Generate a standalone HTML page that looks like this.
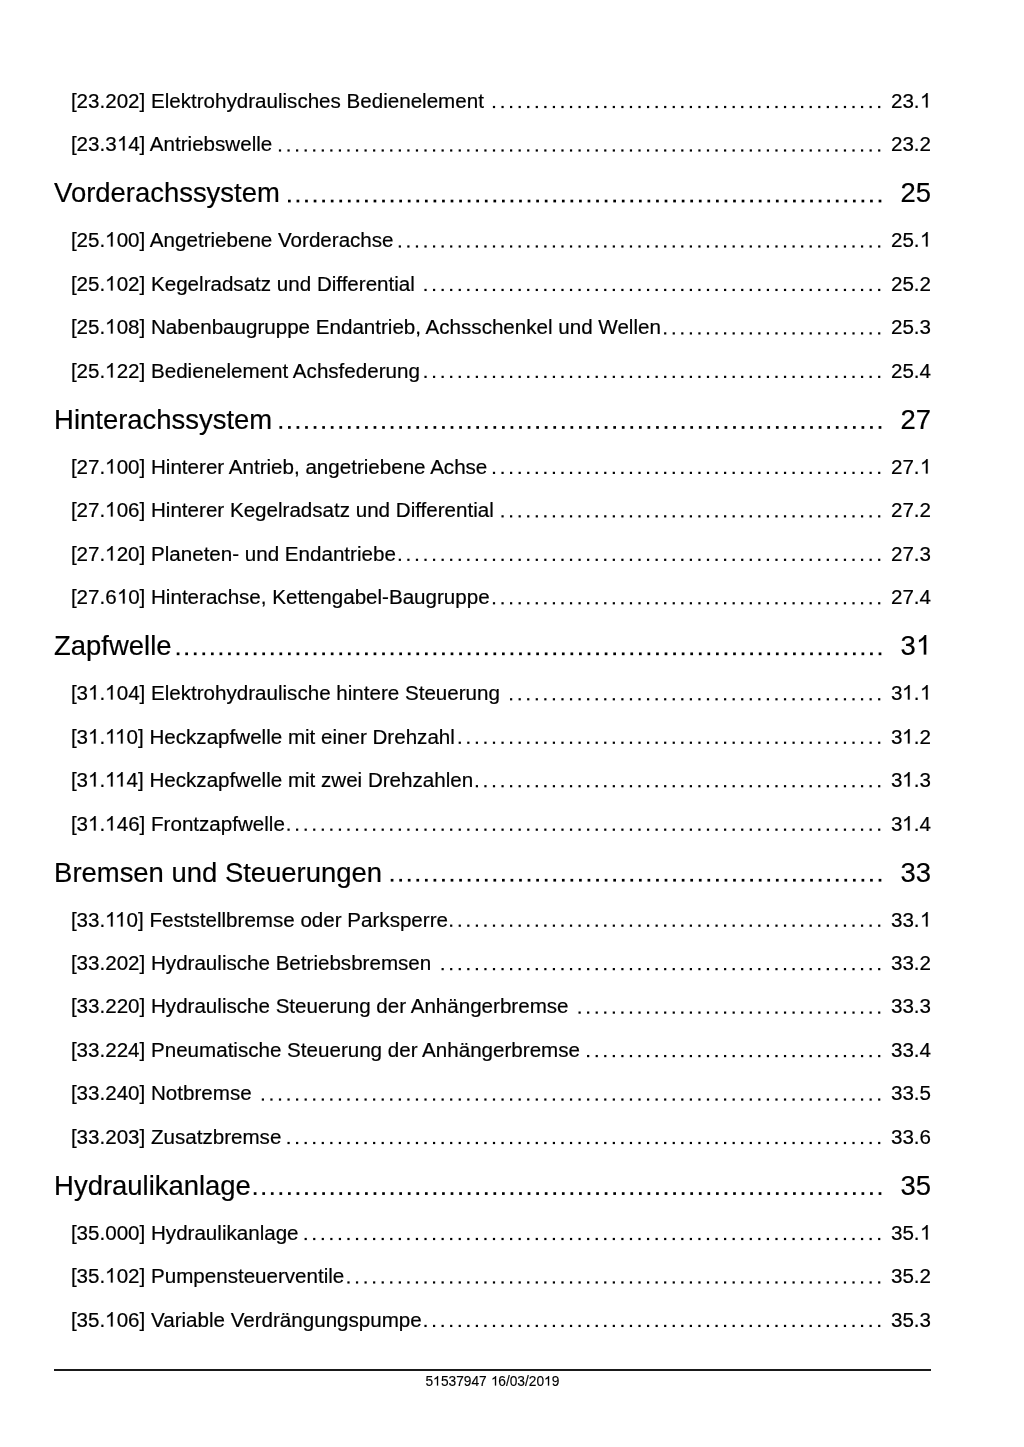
<!DOCTYPE html>
<html><head><meta charset="utf-8"><style>
html,body{margin:0;padding:0;background:#fff;}
body{width:1024px;height:1447px;position:relative;overflow:hidden;font-family:"Liberation Sans",sans-serif;color:#000;-webkit-text-stroke:0.2px #000;}
.r{position:absolute;white-space:nowrap;line-height:0;}
.e{font-size:20.58px;line-height:0;}
.t{font-size:27.44px;line-height:0;}
.n{text-align:right;}
.f{font-size:13.76px;line-height:0;-webkit-text-stroke:0.15px #000;}
.o{position:relative;color:transparent;-webkit-text-stroke-color:transparent;}
.o svg{position:absolute;left:0;width:0.55615em;height:0.71875em;bottom:var(--b);fill:#000;stroke:#000;stroke-width:var(--sw);overflow:visible;}
.e .o{--b:4px;--sw:20;}
.t .o{--b:6px;--sw:15;}
.f .o{--b:3px;--sw:22;}
.hr{position:absolute;left:54px;width:877px;top:1369px;height:2px;background:#1a1a1a;}
#pg{position:absolute;left:0;top:0;width:1024px;height:1447px;background:#fff;filter:blur(0.35px);}
</style></head><body><div id="pg">

<div class="r e" id="t0" style="left:70.9px;top:101px">[23.202] Elektrohydraulisches Bedienelement</div>
<div class="r e n" style="right:93.0px;top:101px">23.<span class="o">1<svg><use href="#one"/></svg></span></div>
<div class="r e" id="t1" style="left:70.9px;top:144px">[23.3<span class="o">1<svg><use href="#one"/></svg></span>4] Antriebswelle</div>
<div class="r e n" style="right:93.0px;top:144px">23.2</div>
<div class="r t" id="t2" style="left:54.1px;top:193px">Vorderachssystem</div>
<div class="r t n" style="right:93.0px;top:193px">25</div>
<div class="r e" id="t3" style="left:70.9px;top:240px">[25.<span class="o">1<svg><use href="#one"/></svg></span>00] Angetriebene Vorderachse</div>
<div class="r e n" style="right:93.0px;top:240px">25.<span class="o">1<svg><use href="#one"/></svg></span></div>
<div class="r e" id="t4" style="left:70.9px;top:284px">[25.<span class="o">1<svg><use href="#one"/></svg></span>02] Kegelradsatz und Differential</div>
<div class="r e n" style="right:93.0px;top:284px">25.2</div>
<div class="r e" id="t5" style="left:70.9px;top:327px">[25.<span class="o">1<svg><use href="#one"/></svg></span>08] Nabenbaugruppe Endantrieb, Achsschenkel und Wellen</div>
<div class="r e n" style="right:93.0px;top:327px">25.3</div>
<div class="r e" id="t6" style="left:70.9px;top:371px">[25.<span class="o">1<svg><use href="#one"/></svg></span>22] Bedienelement Achsfederung</div>
<div class="r e n" style="right:93.0px;top:371px">25.4</div>
<div class="r t" id="t7" style="left:54.1px;top:420px">Hinterachssystem</div>
<div class="r t n" style="right:93.0px;top:420px">27</div>
<div class="r e" id="t8" style="left:70.9px;top:467px">[27.<span class="o">1<svg><use href="#one"/></svg></span>00] Hinterer Antrieb, angetriebene Achse</div>
<div class="r e n" style="right:93.0px;top:467px">27.<span class="o">1<svg><use href="#one"/></svg></span></div>
<div class="r e" id="t9" style="left:70.9px;top:510px">[27.<span class="o">1<svg><use href="#one"/></svg></span>06] Hinterer Kegelradsatz und Differential</div>
<div class="r e n" style="right:93.0px;top:510px">27.2</div>
<div class="r e" id="t10" style="left:70.9px;top:554px">[27.<span class="o">1<svg><use href="#one"/></svg></span>20] Planeten- und Endantriebe</div>
<div class="r e n" style="right:93.0px;top:554px">27.3</div>
<div class="r e" id="t11" style="left:70.9px;top:597px">[27.6<span class="o">1<svg><use href="#one"/></svg></span>0] Hinterachse, Kettengabel-Baugruppe</div>
<div class="r e n" style="right:93.0px;top:597px">27.4</div>
<div class="r t" id="t12" style="left:54.1px;top:646px">Zapfwelle</div>
<div class="r t n" style="right:93.0px;top:646px">3<span class="o">1<svg><use href="#one"/></svg></span></div>
<div class="r e" id="t13" style="left:70.9px;top:693px">[3<span class="o">1<svg><use href="#one"/></svg></span>.<span class="o">1<svg><use href="#one"/></svg></span>04] Elektrohydraulische hintere Steuerung</div>
<div class="r e n" style="right:93.0px;top:693px">3<span class="o">1<svg><use href="#one"/></svg></span>.<span class="o">1<svg><use href="#one"/></svg></span></div>
<div class="r e" id="t14" style="left:70.9px;top:737px">[3<span class="o">1<svg><use href="#one"/></svg></span>.<span class="o">11<svg><use href="#one"/></svg><svg style="left:0.48193em"><use href="#one"/></svg></span>0] Heckzapfwelle mit einer Drehzahl</div>
<div class="r e n" style="right:93.0px;top:737px">3<span class="o">1<svg><use href="#one"/></svg></span>.2</div>
<div class="r e" id="t15" style="left:70.9px;top:780px">[3<span class="o">1<svg><use href="#one"/></svg></span>.<span class="o">11<svg><use href="#one"/></svg><svg style="left:0.48193em"><use href="#one"/></svg></span>4] Heckzapfwelle mit zwei Drehzahlen</div>
<div class="r e n" style="right:93.0px;top:780px">3<span class="o">1<svg><use href="#one"/></svg></span>.3</div>
<div class="r e" id="t16" style="left:70.9px;top:824px">[3<span class="o">1<svg><use href="#one"/></svg></span>.<span class="o">1<svg><use href="#one"/></svg></span>46] Frontzapfwelle</div>
<div class="r e n" style="right:93.0px;top:824px">3<span class="o">1<svg><use href="#one"/></svg></span>.4</div>
<div class="r t" id="t17" style="left:54.1px;top:873px">Bremsen und Steuerungen</div>
<div class="r t n" style="right:93.0px;top:873px">33</div>
<div class="r e" id="t18" style="left:70.9px;top:920px">[33.<span class="o">11<svg><use href="#one"/></svg><svg style="left:0.48193em"><use href="#one"/></svg></span>0] Feststellbremse oder Parksperre</div>
<div class="r e n" style="right:93.0px;top:920px">33.<span class="o">1<svg><use href="#one"/></svg></span></div>
<div class="r e" id="t19" style="left:70.9px;top:963px">[33.202] Hydraulische Betriebsbremsen</div>
<div class="r e n" style="right:93.0px;top:963px">33.2</div>
<div class="r e" id="t20" style="left:70.9px;top:1006px">[33.220] Hydraulische Steuerung der Anhängerbremse</div>
<div class="r e n" style="right:93.0px;top:1006px">33.3</div>
<div class="r e" id="t21" style="left:70.9px;top:1050px">[33.224] Pneumatische Steuerung der Anhängerbremse</div>
<div class="r e n" style="right:93.0px;top:1050px">33.4</div>
<div class="r e" id="t22" style="left:70.9px;top:1093px">[33.240] Notbremse</div>
<div class="r e n" style="right:93.0px;top:1093px">33.5</div>
<div class="r e" id="t23" style="left:70.9px;top:1137px">[33.203] Zusatzbremse</div>
<div class="r e n" style="right:93.0px;top:1137px">33.6</div>
<div class="r t" id="t24" style="left:54.1px;top:1186px">Hydraulikanlage</div>
<div class="r t n" style="right:93.0px;top:1186px">35</div>
<div class="r e" id="t25" style="left:70.9px;top:1233px">[35.000] Hydraulikanlage</div>
<div class="r e n" style="right:93.0px;top:1233px">35.<span class="o">1<svg><use href="#one"/></svg></span></div>
<div class="r e" id="t26" style="left:70.9px;top:1276px">[35.<span class="o">1<svg><use href="#one"/></svg></span>02] Pumpensteuerventile</div>
<div class="r e n" style="right:93.0px;top:1276px">35.2</div>
<div class="r e" id="t27" style="left:70.9px;top:1320px">[35.<span class="o">1<svg><use href="#one"/></svg></span>06] Variable Verdrängungspumpe</div>
<div class="r e n" style="right:93.0px;top:1320px">35.3</div>
<svg width="0" height="0" style="position:absolute"><defs><symbol id="one" viewBox="0 0 1139 1472"><path d="M763,1472L583,1472L583,325Q518,387 412.5,449Q307,511 223,542L223,368Q374,297 485.5,197.5Q597,98 647,0L763,0Z"/></symbol></defs></svg>
<div class="hr"></div>
<div class="r f" style="left:0;width:985px;text-align:center;top:1382px">5<span class="o">1<svg><use href="#one"/></svg></span>537947 <span class="o">1<svg><use href="#one"/></svg></span>6/03/20<span class="o">1<svg><use href="#one"/></svg></span>9</div>
<svg style="position:absolute;left:0;top:0" width="1024" height="1447" fill="#000"><rect x="878.10" y="105.91" width="2.2" height="2.2"/><rect x="869.54" y="105.91" width="2.2" height="2.2"/><rect x="860.98" y="105.91" width="2.2" height="2.2"/><rect x="852.42" y="105.91" width="2.2" height="2.2"/><rect x="843.86" y="105.91" width="2.2" height="2.2"/><rect x="835.30" y="105.91" width="2.2" height="2.2"/><rect x="826.74" y="105.91" width="2.2" height="2.2"/><rect x="818.18" y="105.91" width="2.2" height="2.2"/><rect x="809.62" y="105.91" width="2.2" height="2.2"/><rect x="801.06" y="105.91" width="2.2" height="2.2"/><rect x="792.50" y="105.91" width="2.2" height="2.2"/><rect x="783.94" y="105.91" width="2.2" height="2.2"/><rect x="775.38" y="105.91" width="2.2" height="2.2"/><rect x="766.82" y="105.91" width="2.2" height="2.2"/><rect x="758.26" y="105.91" width="2.2" height="2.2"/><rect x="749.70" y="105.91" width="2.2" height="2.2"/><rect x="741.14" y="105.91" width="2.2" height="2.2"/><rect x="732.58" y="105.91" width="2.2" height="2.2"/><rect x="724.02" y="105.91" width="2.2" height="2.2"/><rect x="715.46" y="105.91" width="2.2" height="2.2"/><rect x="706.90" y="105.91" width="2.2" height="2.2"/><rect x="698.34" y="105.91" width="2.2" height="2.2"/><rect x="689.78" y="105.91" width="2.2" height="2.2"/><rect x="681.22" y="105.91" width="2.2" height="2.2"/><rect x="672.66" y="105.91" width="2.2" height="2.2"/><rect x="664.10" y="105.91" width="2.2" height="2.2"/><rect x="655.54" y="105.91" width="2.2" height="2.2"/><rect x="646.98" y="105.91" width="2.2" height="2.2"/><rect x="638.42" y="105.91" width="2.2" height="2.2"/><rect x="629.86" y="105.91" width="2.2" height="2.2"/><rect x="621.30" y="105.91" width="2.2" height="2.2"/><rect x="612.74" y="105.91" width="2.2" height="2.2"/><rect x="604.18" y="105.91" width="2.2" height="2.2"/><rect x="595.62" y="105.91" width="2.2" height="2.2"/><rect x="587.06" y="105.91" width="2.2" height="2.2"/><rect x="578.50" y="105.91" width="2.2" height="2.2"/><rect x="569.94" y="105.91" width="2.2" height="2.2"/><rect x="561.38" y="105.91" width="2.2" height="2.2"/><rect x="552.82" y="105.91" width="2.2" height="2.2"/><rect x="544.26" y="105.91" width="2.2" height="2.2"/><rect x="535.70" y="105.91" width="2.2" height="2.2"/><rect x="527.14" y="105.91" width="2.2" height="2.2"/><rect x="518.58" y="105.91" width="2.2" height="2.2"/><rect x="510.02" y="105.91" width="2.2" height="2.2"/><rect x="501.46" y="105.91" width="2.2" height="2.2"/><rect x="492.90" y="105.91" width="2.2" height="2.2"/><rect x="878.10" y="149.38" width="2.2" height="2.2"/><rect x="869.54" y="149.38" width="2.2" height="2.2"/><rect x="860.98" y="149.38" width="2.2" height="2.2"/><rect x="852.42" y="149.38" width="2.2" height="2.2"/><rect x="843.86" y="149.38" width="2.2" height="2.2"/><rect x="835.30" y="149.38" width="2.2" height="2.2"/><rect x="826.74" y="149.38" width="2.2" height="2.2"/><rect x="818.18" y="149.38" width="2.2" height="2.2"/><rect x="809.62" y="149.38" width="2.2" height="2.2"/><rect x="801.06" y="149.38" width="2.2" height="2.2"/><rect x="792.50" y="149.38" width="2.2" height="2.2"/><rect x="783.94" y="149.38" width="2.2" height="2.2"/><rect x="775.38" y="149.38" width="2.2" height="2.2"/><rect x="766.82" y="149.38" width="2.2" height="2.2"/><rect x="758.26" y="149.38" width="2.2" height="2.2"/><rect x="749.70" y="149.38" width="2.2" height="2.2"/><rect x="741.14" y="149.38" width="2.2" height="2.2"/><rect x="732.58" y="149.38" width="2.2" height="2.2"/><rect x="724.02" y="149.38" width="2.2" height="2.2"/><rect x="715.46" y="149.38" width="2.2" height="2.2"/><rect x="706.90" y="149.38" width="2.2" height="2.2"/><rect x="698.34" y="149.38" width="2.2" height="2.2"/><rect x="689.78" y="149.38" width="2.2" height="2.2"/><rect x="681.22" y="149.38" width="2.2" height="2.2"/><rect x="672.66" y="149.38" width="2.2" height="2.2"/><rect x="664.10" y="149.38" width="2.2" height="2.2"/><rect x="655.54" y="149.38" width="2.2" height="2.2"/><rect x="646.98" y="149.38" width="2.2" height="2.2"/><rect x="638.42" y="149.38" width="2.2" height="2.2"/><rect x="629.86" y="149.38" width="2.2" height="2.2"/><rect x="621.30" y="149.38" width="2.2" height="2.2"/><rect x="612.74" y="149.38" width="2.2" height="2.2"/><rect x="604.18" y="149.38" width="2.2" height="2.2"/><rect x="595.62" y="149.38" width="2.2" height="2.2"/><rect x="587.06" y="149.38" width="2.2" height="2.2"/><rect x="578.50" y="149.38" width="2.2" height="2.2"/><rect x="569.94" y="149.38" width="2.2" height="2.2"/><rect x="561.38" y="149.38" width="2.2" height="2.2"/><rect x="552.82" y="149.38" width="2.2" height="2.2"/><rect x="544.26" y="149.38" width="2.2" height="2.2"/><rect x="535.70" y="149.38" width="2.2" height="2.2"/><rect x="527.14" y="149.38" width="2.2" height="2.2"/><rect x="518.58" y="149.38" width="2.2" height="2.2"/><rect x="510.02" y="149.38" width="2.2" height="2.2"/><rect x="501.46" y="149.38" width="2.2" height="2.2"/><rect x="492.90" y="149.38" width="2.2" height="2.2"/><rect x="484.34" y="149.38" width="2.2" height="2.2"/><rect x="475.78" y="149.38" width="2.2" height="2.2"/><rect x="467.22" y="149.38" width="2.2" height="2.2"/><rect x="458.66" y="149.38" width="2.2" height="2.2"/><rect x="450.10" y="149.38" width="2.2" height="2.2"/><rect x="441.54" y="149.38" width="2.2" height="2.2"/><rect x="432.98" y="149.38" width="2.2" height="2.2"/><rect x="424.42" y="149.38" width="2.2" height="2.2"/><rect x="415.86" y="149.38" width="2.2" height="2.2"/><rect x="407.30" y="149.38" width="2.2" height="2.2"/><rect x="398.74" y="149.38" width="2.2" height="2.2"/><rect x="390.18" y="149.38" width="2.2" height="2.2"/><rect x="381.62" y="149.38" width="2.2" height="2.2"/><rect x="373.06" y="149.38" width="2.2" height="2.2"/><rect x="364.50" y="149.38" width="2.2" height="2.2"/><rect x="355.94" y="149.38" width="2.2" height="2.2"/><rect x="347.38" y="149.38" width="2.2" height="2.2"/><rect x="338.82" y="149.38" width="2.2" height="2.2"/><rect x="330.26" y="149.38" width="2.2" height="2.2"/><rect x="321.70" y="149.38" width="2.2" height="2.2"/><rect x="313.14" y="149.38" width="2.2" height="2.2"/><rect x="304.58" y="149.38" width="2.2" height="2.2"/><rect x="296.02" y="149.38" width="2.2" height="2.2"/><rect x="287.46" y="149.38" width="2.2" height="2.2"/><rect x="278.90" y="149.38" width="2.2" height="2.2"/><rect x="878.65" y="199.69" width="2.7" height="2.7"/><rect x="870.09" y="199.69" width="2.7" height="2.7"/><rect x="861.53" y="199.69" width="2.7" height="2.7"/><rect x="852.97" y="199.69" width="2.7" height="2.7"/><rect x="844.41" y="199.69" width="2.7" height="2.7"/><rect x="835.85" y="199.69" width="2.7" height="2.7"/><rect x="827.29" y="199.69" width="2.7" height="2.7"/><rect x="818.73" y="199.69" width="2.7" height="2.7"/><rect x="810.17" y="199.69" width="2.7" height="2.7"/><rect x="801.61" y="199.69" width="2.7" height="2.7"/><rect x="793.05" y="199.69" width="2.7" height="2.7"/><rect x="784.49" y="199.69" width="2.7" height="2.7"/><rect x="775.93" y="199.69" width="2.7" height="2.7"/><rect x="767.37" y="199.69" width="2.7" height="2.7"/><rect x="758.81" y="199.69" width="2.7" height="2.7"/><rect x="750.25" y="199.69" width="2.7" height="2.7"/><rect x="741.69" y="199.69" width="2.7" height="2.7"/><rect x="733.13" y="199.69" width="2.7" height="2.7"/><rect x="724.57" y="199.69" width="2.7" height="2.7"/><rect x="716.01" y="199.69" width="2.7" height="2.7"/><rect x="707.45" y="199.69" width="2.7" height="2.7"/><rect x="698.89" y="199.69" width="2.7" height="2.7"/><rect x="690.33" y="199.69" width="2.7" height="2.7"/><rect x="681.77" y="199.69" width="2.7" height="2.7"/><rect x="673.21" y="199.69" width="2.7" height="2.7"/><rect x="664.65" y="199.69" width="2.7" height="2.7"/><rect x="656.09" y="199.69" width="2.7" height="2.7"/><rect x="647.53" y="199.69" width="2.7" height="2.7"/><rect x="638.97" y="199.69" width="2.7" height="2.7"/><rect x="630.41" y="199.69" width="2.7" height="2.7"/><rect x="621.85" y="199.69" width="2.7" height="2.7"/><rect x="613.29" y="199.69" width="2.7" height="2.7"/><rect x="604.73" y="199.69" width="2.7" height="2.7"/><rect x="596.17" y="199.69" width="2.7" height="2.7"/><rect x="587.61" y="199.69" width="2.7" height="2.7"/><rect x="579.05" y="199.69" width="2.7" height="2.7"/><rect x="570.49" y="199.69" width="2.7" height="2.7"/><rect x="561.93" y="199.69" width="2.7" height="2.7"/><rect x="553.37" y="199.69" width="2.7" height="2.7"/><rect x="544.81" y="199.69" width="2.7" height="2.7"/><rect x="536.25" y="199.69" width="2.7" height="2.7"/><rect x="527.69" y="199.69" width="2.7" height="2.7"/><rect x="519.13" y="199.69" width="2.7" height="2.7"/><rect x="510.57" y="199.69" width="2.7" height="2.7"/><rect x="502.01" y="199.69" width="2.7" height="2.7"/><rect x="493.45" y="199.69" width="2.7" height="2.7"/><rect x="484.89" y="199.69" width="2.7" height="2.7"/><rect x="476.33" y="199.69" width="2.7" height="2.7"/><rect x="467.77" y="199.69" width="2.7" height="2.7"/><rect x="459.21" y="199.69" width="2.7" height="2.7"/><rect x="450.65" y="199.69" width="2.7" height="2.7"/><rect x="442.09" y="199.69" width="2.7" height="2.7"/><rect x="433.53" y="199.69" width="2.7" height="2.7"/><rect x="424.97" y="199.69" width="2.7" height="2.7"/><rect x="416.41" y="199.69" width="2.7" height="2.7"/><rect x="407.85" y="199.69" width="2.7" height="2.7"/><rect x="399.29" y="199.69" width="2.7" height="2.7"/><rect x="390.73" y="199.69" width="2.7" height="2.7"/><rect x="382.17" y="199.69" width="2.7" height="2.7"/><rect x="373.61" y="199.69" width="2.7" height="2.7"/><rect x="365.05" y="199.69" width="2.7" height="2.7"/><rect x="356.49" y="199.69" width="2.7" height="2.7"/><rect x="347.93" y="199.69" width="2.7" height="2.7"/><rect x="339.37" y="199.69" width="2.7" height="2.7"/><rect x="330.81" y="199.69" width="2.7" height="2.7"/><rect x="322.25" y="199.69" width="2.7" height="2.7"/><rect x="313.69" y="199.69" width="2.7" height="2.7"/><rect x="305.13" y="199.69" width="2.7" height="2.7"/><rect x="296.57" y="199.69" width="2.7" height="2.7"/><rect x="288.01" y="199.69" width="2.7" height="2.7"/><rect x="878.10" y="245.38" width="2.2" height="2.2"/><rect x="869.54" y="245.38" width="2.2" height="2.2"/><rect x="860.98" y="245.38" width="2.2" height="2.2"/><rect x="852.42" y="245.38" width="2.2" height="2.2"/><rect x="843.86" y="245.38" width="2.2" height="2.2"/><rect x="835.30" y="245.38" width="2.2" height="2.2"/><rect x="826.74" y="245.38" width="2.2" height="2.2"/><rect x="818.18" y="245.38" width="2.2" height="2.2"/><rect x="809.62" y="245.38" width="2.2" height="2.2"/><rect x="801.06" y="245.38" width="2.2" height="2.2"/><rect x="792.50" y="245.38" width="2.2" height="2.2"/><rect x="783.94" y="245.38" width="2.2" height="2.2"/><rect x="775.38" y="245.38" width="2.2" height="2.2"/><rect x="766.82" y="245.38" width="2.2" height="2.2"/><rect x="758.26" y="245.38" width="2.2" height="2.2"/><rect x="749.70" y="245.38" width="2.2" height="2.2"/><rect x="741.14" y="245.38" width="2.2" height="2.2"/><rect x="732.58" y="245.38" width="2.2" height="2.2"/><rect x="724.02" y="245.38" width="2.2" height="2.2"/><rect x="715.46" y="245.38" width="2.2" height="2.2"/><rect x="706.90" y="245.38" width="2.2" height="2.2"/><rect x="698.34" y="245.38" width="2.2" height="2.2"/><rect x="689.78" y="245.38" width="2.2" height="2.2"/><rect x="681.22" y="245.38" width="2.2" height="2.2"/><rect x="672.66" y="245.38" width="2.2" height="2.2"/><rect x="664.10" y="245.38" width="2.2" height="2.2"/><rect x="655.54" y="245.38" width="2.2" height="2.2"/><rect x="646.98" y="245.38" width="2.2" height="2.2"/><rect x="638.42" y="245.38" width="2.2" height="2.2"/><rect x="629.86" y="245.38" width="2.2" height="2.2"/><rect x="621.30" y="245.38" width="2.2" height="2.2"/><rect x="612.74" y="245.38" width="2.2" height="2.2"/><rect x="604.18" y="245.38" width="2.2" height="2.2"/><rect x="595.62" y="245.38" width="2.2" height="2.2"/><rect x="587.06" y="245.38" width="2.2" height="2.2"/><rect x="578.50" y="245.38" width="2.2" height="2.2"/><rect x="569.94" y="245.38" width="2.2" height="2.2"/><rect x="561.38" y="245.38" width="2.2" height="2.2"/><rect x="552.82" y="245.38" width="2.2" height="2.2"/><rect x="544.26" y="245.38" width="2.2" height="2.2"/><rect x="535.70" y="245.38" width="2.2" height="2.2"/><rect x="527.14" y="245.38" width="2.2" height="2.2"/><rect x="518.58" y="245.38" width="2.2" height="2.2"/><rect x="510.02" y="245.38" width="2.2" height="2.2"/><rect x="501.46" y="245.38" width="2.2" height="2.2"/><rect x="492.90" y="245.38" width="2.2" height="2.2"/><rect x="484.34" y="245.38" width="2.2" height="2.2"/><rect x="475.78" y="245.38" width="2.2" height="2.2"/><rect x="467.22" y="245.38" width="2.2" height="2.2"/><rect x="458.66" y="245.38" width="2.2" height="2.2"/><rect x="450.10" y="245.38" width="2.2" height="2.2"/><rect x="441.54" y="245.38" width="2.2" height="2.2"/><rect x="432.98" y="245.38" width="2.2" height="2.2"/><rect x="424.42" y="245.38" width="2.2" height="2.2"/><rect x="415.86" y="245.38" width="2.2" height="2.2"/><rect x="407.30" y="245.38" width="2.2" height="2.2"/><rect x="398.74" y="245.38" width="2.2" height="2.2"/><rect x="878.10" y="288.84" width="2.2" height="2.2"/><rect x="869.54" y="288.84" width="2.2" height="2.2"/><rect x="860.98" y="288.84" width="2.2" height="2.2"/><rect x="852.42" y="288.84" width="2.2" height="2.2"/><rect x="843.86" y="288.84" width="2.2" height="2.2"/><rect x="835.30" y="288.84" width="2.2" height="2.2"/><rect x="826.74" y="288.84" width="2.2" height="2.2"/><rect x="818.18" y="288.84" width="2.2" height="2.2"/><rect x="809.62" y="288.84" width="2.2" height="2.2"/><rect x="801.06" y="288.84" width="2.2" height="2.2"/><rect x="792.50" y="288.84" width="2.2" height="2.2"/><rect x="783.94" y="288.84" width="2.2" height="2.2"/><rect x="775.38" y="288.84" width="2.2" height="2.2"/><rect x="766.82" y="288.84" width="2.2" height="2.2"/><rect x="758.26" y="288.84" width="2.2" height="2.2"/><rect x="749.70" y="288.84" width="2.2" height="2.2"/><rect x="741.14" y="288.84" width="2.2" height="2.2"/><rect x="732.58" y="288.84" width="2.2" height="2.2"/><rect x="724.02" y="288.84" width="2.2" height="2.2"/><rect x="715.46" y="288.84" width="2.2" height="2.2"/><rect x="706.90" y="288.84" width="2.2" height="2.2"/><rect x="698.34" y="288.84" width="2.2" height="2.2"/><rect x="689.78" y="288.84" width="2.2" height="2.2"/><rect x="681.22" y="288.84" width="2.2" height="2.2"/><rect x="672.66" y="288.84" width="2.2" height="2.2"/><rect x="664.10" y="288.84" width="2.2" height="2.2"/><rect x="655.54" y="288.84" width="2.2" height="2.2"/><rect x="646.98" y="288.84" width="2.2" height="2.2"/><rect x="638.42" y="288.84" width="2.2" height="2.2"/><rect x="629.86" y="288.84" width="2.2" height="2.2"/><rect x="621.30" y="288.84" width="2.2" height="2.2"/><rect x="612.74" y="288.84" width="2.2" height="2.2"/><rect x="604.18" y="288.84" width="2.2" height="2.2"/><rect x="595.62" y="288.84" width="2.2" height="2.2"/><rect x="587.06" y="288.84" width="2.2" height="2.2"/><rect x="578.50" y="288.84" width="2.2" height="2.2"/><rect x="569.94" y="288.84" width="2.2" height="2.2"/><rect x="561.38" y="288.84" width="2.2" height="2.2"/><rect x="552.82" y="288.84" width="2.2" height="2.2"/><rect x="544.26" y="288.84" width="2.2" height="2.2"/><rect x="535.70" y="288.84" width="2.2" height="2.2"/><rect x="527.14" y="288.84" width="2.2" height="2.2"/><rect x="518.58" y="288.84" width="2.2" height="2.2"/><rect x="510.02" y="288.84" width="2.2" height="2.2"/><rect x="501.46" y="288.84" width="2.2" height="2.2"/><rect x="492.90" y="288.84" width="2.2" height="2.2"/><rect x="484.34" y="288.84" width="2.2" height="2.2"/><rect x="475.78" y="288.84" width="2.2" height="2.2"/><rect x="467.22" y="288.84" width="2.2" height="2.2"/><rect x="458.66" y="288.84" width="2.2" height="2.2"/><rect x="450.10" y="288.84" width="2.2" height="2.2"/><rect x="441.54" y="288.84" width="2.2" height="2.2"/><rect x="432.98" y="288.84" width="2.2" height="2.2"/><rect x="424.42" y="288.84" width="2.2" height="2.2"/><rect x="878.10" y="332.31" width="2.2" height="2.2"/><rect x="869.54" y="332.31" width="2.2" height="2.2"/><rect x="860.98" y="332.31" width="2.2" height="2.2"/><rect x="852.42" y="332.31" width="2.2" height="2.2"/><rect x="843.86" y="332.31" width="2.2" height="2.2"/><rect x="835.30" y="332.31" width="2.2" height="2.2"/><rect x="826.74" y="332.31" width="2.2" height="2.2"/><rect x="818.18" y="332.31" width="2.2" height="2.2"/><rect x="809.62" y="332.31" width="2.2" height="2.2"/><rect x="801.06" y="332.31" width="2.2" height="2.2"/><rect x="792.50" y="332.31" width="2.2" height="2.2"/><rect x="783.94" y="332.31" width="2.2" height="2.2"/><rect x="775.38" y="332.31" width="2.2" height="2.2"/><rect x="766.82" y="332.31" width="2.2" height="2.2"/><rect x="758.26" y="332.31" width="2.2" height="2.2"/><rect x="749.70" y="332.31" width="2.2" height="2.2"/><rect x="741.14" y="332.31" width="2.2" height="2.2"/><rect x="732.58" y="332.31" width="2.2" height="2.2"/><rect x="724.02" y="332.31" width="2.2" height="2.2"/><rect x="715.46" y="332.31" width="2.2" height="2.2"/><rect x="706.90" y="332.31" width="2.2" height="2.2"/><rect x="698.34" y="332.31" width="2.2" height="2.2"/><rect x="689.78" y="332.31" width="2.2" height="2.2"/><rect x="681.22" y="332.31" width="2.2" height="2.2"/><rect x="672.66" y="332.31" width="2.2" height="2.2"/><rect x="664.10" y="332.31" width="2.2" height="2.2"/><rect x="878.10" y="375.77" width="2.2" height="2.2"/><rect x="869.54" y="375.77" width="2.2" height="2.2"/><rect x="860.98" y="375.77" width="2.2" height="2.2"/><rect x="852.42" y="375.77" width="2.2" height="2.2"/><rect x="843.86" y="375.77" width="2.2" height="2.2"/><rect x="835.30" y="375.77" width="2.2" height="2.2"/><rect x="826.74" y="375.77" width="2.2" height="2.2"/><rect x="818.18" y="375.77" width="2.2" height="2.2"/><rect x="809.62" y="375.77" width="2.2" height="2.2"/><rect x="801.06" y="375.77" width="2.2" height="2.2"/><rect x="792.50" y="375.77" width="2.2" height="2.2"/><rect x="783.94" y="375.77" width="2.2" height="2.2"/><rect x="775.38" y="375.77" width="2.2" height="2.2"/><rect x="766.82" y="375.77" width="2.2" height="2.2"/><rect x="758.26" y="375.77" width="2.2" height="2.2"/><rect x="749.70" y="375.77" width="2.2" height="2.2"/><rect x="741.14" y="375.77" width="2.2" height="2.2"/><rect x="732.58" y="375.77" width="2.2" height="2.2"/><rect x="724.02" y="375.77" width="2.2" height="2.2"/><rect x="715.46" y="375.77" width="2.2" height="2.2"/><rect x="706.90" y="375.77" width="2.2" height="2.2"/><rect x="698.34" y="375.77" width="2.2" height="2.2"/><rect x="689.78" y="375.77" width="2.2" height="2.2"/><rect x="681.22" y="375.77" width="2.2" height="2.2"/><rect x="672.66" y="375.77" width="2.2" height="2.2"/><rect x="664.10" y="375.77" width="2.2" height="2.2"/><rect x="655.54" y="375.77" width="2.2" height="2.2"/><rect x="646.98" y="375.77" width="2.2" height="2.2"/><rect x="638.42" y="375.77" width="2.2" height="2.2"/><rect x="629.86" y="375.77" width="2.2" height="2.2"/><rect x="621.30" y="375.77" width="2.2" height="2.2"/><rect x="612.74" y="375.77" width="2.2" height="2.2"/><rect x="604.18" y="375.77" width="2.2" height="2.2"/><rect x="595.62" y="375.77" width="2.2" height="2.2"/><rect x="587.06" y="375.77" width="2.2" height="2.2"/><rect x="578.50" y="375.77" width="2.2" height="2.2"/><rect x="569.94" y="375.77" width="2.2" height="2.2"/><rect x="561.38" y="375.77" width="2.2" height="2.2"/><rect x="552.82" y="375.77" width="2.2" height="2.2"/><rect x="544.26" y="375.77" width="2.2" height="2.2"/><rect x="535.70" y="375.77" width="2.2" height="2.2"/><rect x="527.14" y="375.77" width="2.2" height="2.2"/><rect x="518.58" y="375.77" width="2.2" height="2.2"/><rect x="510.02" y="375.77" width="2.2" height="2.2"/><rect x="501.46" y="375.77" width="2.2" height="2.2"/><rect x="492.90" y="375.77" width="2.2" height="2.2"/><rect x="484.34" y="375.77" width="2.2" height="2.2"/><rect x="475.78" y="375.77" width="2.2" height="2.2"/><rect x="467.22" y="375.77" width="2.2" height="2.2"/><rect x="458.66" y="375.77" width="2.2" height="2.2"/><rect x="450.10" y="375.77" width="2.2" height="2.2"/><rect x="441.54" y="375.77" width="2.2" height="2.2"/><rect x="432.98" y="375.77" width="2.2" height="2.2"/><rect x="424.42" y="375.77" width="2.2" height="2.2"/><rect x="878.65" y="426.09" width="2.7" height="2.7"/><rect x="870.09" y="426.09" width="2.7" height="2.7"/><rect x="861.53" y="426.09" width="2.7" height="2.7"/><rect x="852.97" y="426.09" width="2.7" height="2.7"/><rect x="844.41" y="426.09" width="2.7" height="2.7"/><rect x="835.85" y="426.09" width="2.7" height="2.7"/><rect x="827.29" y="426.09" width="2.7" height="2.7"/><rect x="818.73" y="426.09" width="2.7" height="2.7"/><rect x="810.17" y="426.09" width="2.7" height="2.7"/><rect x="801.61" y="426.09" width="2.7" height="2.7"/><rect x="793.05" y="426.09" width="2.7" height="2.7"/><rect x="784.49" y="426.09" width="2.7" height="2.7"/><rect x="775.93" y="426.09" width="2.7" height="2.7"/><rect x="767.37" y="426.09" width="2.7" height="2.7"/><rect x="758.81" y="426.09" width="2.7" height="2.7"/><rect x="750.25" y="426.09" width="2.7" height="2.7"/><rect x="741.69" y="426.09" width="2.7" height="2.7"/><rect x="733.13" y="426.09" width="2.7" height="2.7"/><rect x="724.57" y="426.09" width="2.7" height="2.7"/><rect x="716.01" y="426.09" width="2.7" height="2.7"/><rect x="707.45" y="426.09" width="2.7" height="2.7"/><rect x="698.89" y="426.09" width="2.7" height="2.7"/><rect x="690.33" y="426.09" width="2.7" height="2.7"/><rect x="681.77" y="426.09" width="2.7" height="2.7"/><rect x="673.21" y="426.09" width="2.7" height="2.7"/><rect x="664.65" y="426.09" width="2.7" height="2.7"/><rect x="656.09" y="426.09" width="2.7" height="2.7"/><rect x="647.53" y="426.09" width="2.7" height="2.7"/><rect x="638.97" y="426.09" width="2.7" height="2.7"/><rect x="630.41" y="426.09" width="2.7" height="2.7"/><rect x="621.85" y="426.09" width="2.7" height="2.7"/><rect x="613.29" y="426.09" width="2.7" height="2.7"/><rect x="604.73" y="426.09" width="2.7" height="2.7"/><rect x="596.17" y="426.09" width="2.7" height="2.7"/><rect x="587.61" y="426.09" width="2.7" height="2.7"/><rect x="579.05" y="426.09" width="2.7" height="2.7"/><rect x="570.49" y="426.09" width="2.7" height="2.7"/><rect x="561.93" y="426.09" width="2.7" height="2.7"/><rect x="553.37" y="426.09" width="2.7" height="2.7"/><rect x="544.81" y="426.09" width="2.7" height="2.7"/><rect x="536.25" y="426.09" width="2.7" height="2.7"/><rect x="527.69" y="426.09" width="2.7" height="2.7"/><rect x="519.13" y="426.09" width="2.7" height="2.7"/><rect x="510.57" y="426.09" width="2.7" height="2.7"/><rect x="502.01" y="426.09" width="2.7" height="2.7"/><rect x="493.45" y="426.09" width="2.7" height="2.7"/><rect x="484.89" y="426.09" width="2.7" height="2.7"/><rect x="476.33" y="426.09" width="2.7" height="2.7"/><rect x="467.77" y="426.09" width="2.7" height="2.7"/><rect x="459.21" y="426.09" width="2.7" height="2.7"/><rect x="450.65" y="426.09" width="2.7" height="2.7"/><rect x="442.09" y="426.09" width="2.7" height="2.7"/><rect x="433.53" y="426.09" width="2.7" height="2.7"/><rect x="424.97" y="426.09" width="2.7" height="2.7"/><rect x="416.41" y="426.09" width="2.7" height="2.7"/><rect x="407.85" y="426.09" width="2.7" height="2.7"/><rect x="399.29" y="426.09" width="2.7" height="2.7"/><rect x="390.73" y="426.09" width="2.7" height="2.7"/><rect x="382.17" y="426.09" width="2.7" height="2.7"/><rect x="373.61" y="426.09" width="2.7" height="2.7"/><rect x="365.05" y="426.09" width="2.7" height="2.7"/><rect x="356.49" y="426.09" width="2.7" height="2.7"/><rect x="347.93" y="426.09" width="2.7" height="2.7"/><rect x="339.37" y="426.09" width="2.7" height="2.7"/><rect x="330.81" y="426.09" width="2.7" height="2.7"/><rect x="322.25" y="426.09" width="2.7" height="2.7"/><rect x="313.69" y="426.09" width="2.7" height="2.7"/><rect x="305.13" y="426.09" width="2.7" height="2.7"/><rect x="296.57" y="426.09" width="2.7" height="2.7"/><rect x="288.01" y="426.09" width="2.7" height="2.7"/><rect x="279.45" y="426.09" width="2.7" height="2.7"/><rect x="878.10" y="471.77" width="2.2" height="2.2"/><rect x="869.54" y="471.77" width="2.2" height="2.2"/><rect x="860.98" y="471.77" width="2.2" height="2.2"/><rect x="852.42" y="471.77" width="2.2" height="2.2"/><rect x="843.86" y="471.77" width="2.2" height="2.2"/><rect x="835.30" y="471.77" width="2.2" height="2.2"/><rect x="826.74" y="471.77" width="2.2" height="2.2"/><rect x="818.18" y="471.77" width="2.2" height="2.2"/><rect x="809.62" y="471.77" width="2.2" height="2.2"/><rect x="801.06" y="471.77" width="2.2" height="2.2"/><rect x="792.50" y="471.77" width="2.2" height="2.2"/><rect x="783.94" y="471.77" width="2.2" height="2.2"/><rect x="775.38" y="471.77" width="2.2" height="2.2"/><rect x="766.82" y="471.77" width="2.2" height="2.2"/><rect x="758.26" y="471.77" width="2.2" height="2.2"/><rect x="749.70" y="471.77" width="2.2" height="2.2"/><rect x="741.14" y="471.77" width="2.2" height="2.2"/><rect x="732.58" y="471.77" width="2.2" height="2.2"/><rect x="724.02" y="471.77" width="2.2" height="2.2"/><rect x="715.46" y="471.77" width="2.2" height="2.2"/><rect x="706.90" y="471.77" width="2.2" height="2.2"/><rect x="698.34" y="471.77" width="2.2" height="2.2"/><rect x="689.78" y="471.77" width="2.2" height="2.2"/><rect x="681.22" y="471.77" width="2.2" height="2.2"/><rect x="672.66" y="471.77" width="2.2" height="2.2"/><rect x="664.10" y="471.77" width="2.2" height="2.2"/><rect x="655.54" y="471.77" width="2.2" height="2.2"/><rect x="646.98" y="471.77" width="2.2" height="2.2"/><rect x="638.42" y="471.77" width="2.2" height="2.2"/><rect x="629.86" y="471.77" width="2.2" height="2.2"/><rect x="621.30" y="471.77" width="2.2" height="2.2"/><rect x="612.74" y="471.77" width="2.2" height="2.2"/><rect x="604.18" y="471.77" width="2.2" height="2.2"/><rect x="595.62" y="471.77" width="2.2" height="2.2"/><rect x="587.06" y="471.77" width="2.2" height="2.2"/><rect x="578.50" y="471.77" width="2.2" height="2.2"/><rect x="569.94" y="471.77" width="2.2" height="2.2"/><rect x="561.38" y="471.77" width="2.2" height="2.2"/><rect x="552.82" y="471.77" width="2.2" height="2.2"/><rect x="544.26" y="471.77" width="2.2" height="2.2"/><rect x="535.70" y="471.77" width="2.2" height="2.2"/><rect x="527.14" y="471.77" width="2.2" height="2.2"/><rect x="518.58" y="471.77" width="2.2" height="2.2"/><rect x="510.02" y="471.77" width="2.2" height="2.2"/><rect x="501.46" y="471.77" width="2.2" height="2.2"/><rect x="492.90" y="471.77" width="2.2" height="2.2"/><rect x="878.10" y="515.24" width="2.2" height="2.2"/><rect x="869.54" y="515.24" width="2.2" height="2.2"/><rect x="860.98" y="515.24" width="2.2" height="2.2"/><rect x="852.42" y="515.24" width="2.2" height="2.2"/><rect x="843.86" y="515.24" width="2.2" height="2.2"/><rect x="835.30" y="515.24" width="2.2" height="2.2"/><rect x="826.74" y="515.24" width="2.2" height="2.2"/><rect x="818.18" y="515.24" width="2.2" height="2.2"/><rect x="809.62" y="515.24" width="2.2" height="2.2"/><rect x="801.06" y="515.24" width="2.2" height="2.2"/><rect x="792.50" y="515.24" width="2.2" height="2.2"/><rect x="783.94" y="515.24" width="2.2" height="2.2"/><rect x="775.38" y="515.24" width="2.2" height="2.2"/><rect x="766.82" y="515.24" width="2.2" height="2.2"/><rect x="758.26" y="515.24" width="2.2" height="2.2"/><rect x="749.70" y="515.24" width="2.2" height="2.2"/><rect x="741.14" y="515.24" width="2.2" height="2.2"/><rect x="732.58" y="515.24" width="2.2" height="2.2"/><rect x="724.02" y="515.24" width="2.2" height="2.2"/><rect x="715.46" y="515.24" width="2.2" height="2.2"/><rect x="706.90" y="515.24" width="2.2" height="2.2"/><rect x="698.34" y="515.24" width="2.2" height="2.2"/><rect x="689.78" y="515.24" width="2.2" height="2.2"/><rect x="681.22" y="515.24" width="2.2" height="2.2"/><rect x="672.66" y="515.24" width="2.2" height="2.2"/><rect x="664.10" y="515.24" width="2.2" height="2.2"/><rect x="655.54" y="515.24" width="2.2" height="2.2"/><rect x="646.98" y="515.24" width="2.2" height="2.2"/><rect x="638.42" y="515.24" width="2.2" height="2.2"/><rect x="629.86" y="515.24" width="2.2" height="2.2"/><rect x="621.30" y="515.24" width="2.2" height="2.2"/><rect x="612.74" y="515.24" width="2.2" height="2.2"/><rect x="604.18" y="515.24" width="2.2" height="2.2"/><rect x="595.62" y="515.24" width="2.2" height="2.2"/><rect x="587.06" y="515.24" width="2.2" height="2.2"/><rect x="578.50" y="515.24" width="2.2" height="2.2"/><rect x="569.94" y="515.24" width="2.2" height="2.2"/><rect x="561.38" y="515.24" width="2.2" height="2.2"/><rect x="552.82" y="515.24" width="2.2" height="2.2"/><rect x="544.26" y="515.24" width="2.2" height="2.2"/><rect x="535.70" y="515.24" width="2.2" height="2.2"/><rect x="527.14" y="515.24" width="2.2" height="2.2"/><rect x="518.58" y="515.24" width="2.2" height="2.2"/><rect x="510.02" y="515.24" width="2.2" height="2.2"/><rect x="501.46" y="515.24" width="2.2" height="2.2"/><rect x="878.10" y="558.71" width="2.2" height="2.2"/><rect x="869.54" y="558.71" width="2.2" height="2.2"/><rect x="860.98" y="558.71" width="2.2" height="2.2"/><rect x="852.42" y="558.71" width="2.2" height="2.2"/><rect x="843.86" y="558.71" width="2.2" height="2.2"/><rect x="835.30" y="558.71" width="2.2" height="2.2"/><rect x="826.74" y="558.71" width="2.2" height="2.2"/><rect x="818.18" y="558.71" width="2.2" height="2.2"/><rect x="809.62" y="558.71" width="2.2" height="2.2"/><rect x="801.06" y="558.71" width="2.2" height="2.2"/><rect x="792.50" y="558.71" width="2.2" height="2.2"/><rect x="783.94" y="558.71" width="2.2" height="2.2"/><rect x="775.38" y="558.71" width="2.2" height="2.2"/><rect x="766.82" y="558.71" width="2.2" height="2.2"/><rect x="758.26" y="558.71" width="2.2" height="2.2"/><rect x="749.70" y="558.71" width="2.2" height="2.2"/><rect x="741.14" y="558.71" width="2.2" height="2.2"/><rect x="732.58" y="558.71" width="2.2" height="2.2"/><rect x="724.02" y="558.71" width="2.2" height="2.2"/><rect x="715.46" y="558.71" width="2.2" height="2.2"/><rect x="706.90" y="558.71" width="2.2" height="2.2"/><rect x="698.34" y="558.71" width="2.2" height="2.2"/><rect x="689.78" y="558.71" width="2.2" height="2.2"/><rect x="681.22" y="558.71" width="2.2" height="2.2"/><rect x="672.66" y="558.71" width="2.2" height="2.2"/><rect x="664.10" y="558.71" width="2.2" height="2.2"/><rect x="655.54" y="558.71" width="2.2" height="2.2"/><rect x="646.98" y="558.71" width="2.2" height="2.2"/><rect x="638.42" y="558.71" width="2.2" height="2.2"/><rect x="629.86" y="558.71" width="2.2" height="2.2"/><rect x="621.30" y="558.71" width="2.2" height="2.2"/><rect x="612.74" y="558.71" width="2.2" height="2.2"/><rect x="604.18" y="558.71" width="2.2" height="2.2"/><rect x="595.62" y="558.71" width="2.2" height="2.2"/><rect x="587.06" y="558.71" width="2.2" height="2.2"/><rect x="578.50" y="558.71" width="2.2" height="2.2"/><rect x="569.94" y="558.71" width="2.2" height="2.2"/><rect x="561.38" y="558.71" width="2.2" height="2.2"/><rect x="552.82" y="558.71" width="2.2" height="2.2"/><rect x="544.26" y="558.71" width="2.2" height="2.2"/><rect x="535.70" y="558.71" width="2.2" height="2.2"/><rect x="527.14" y="558.71" width="2.2" height="2.2"/><rect x="518.58" y="558.71" width="2.2" height="2.2"/><rect x="510.02" y="558.71" width="2.2" height="2.2"/><rect x="501.46" y="558.71" width="2.2" height="2.2"/><rect x="492.90" y="558.71" width="2.2" height="2.2"/><rect x="484.34" y="558.71" width="2.2" height="2.2"/><rect x="475.78" y="558.71" width="2.2" height="2.2"/><rect x="467.22" y="558.71" width="2.2" height="2.2"/><rect x="458.66" y="558.71" width="2.2" height="2.2"/><rect x="450.10" y="558.71" width="2.2" height="2.2"/><rect x="441.54" y="558.71" width="2.2" height="2.2"/><rect x="432.98" y="558.71" width="2.2" height="2.2"/><rect x="424.42" y="558.71" width="2.2" height="2.2"/><rect x="415.86" y="558.71" width="2.2" height="2.2"/><rect x="407.30" y="558.71" width="2.2" height="2.2"/><rect x="398.74" y="558.71" width="2.2" height="2.2"/><rect x="878.10" y="602.17" width="2.2" height="2.2"/><rect x="869.54" y="602.17" width="2.2" height="2.2"/><rect x="860.98" y="602.17" width="2.2" height="2.2"/><rect x="852.42" y="602.17" width="2.2" height="2.2"/><rect x="843.86" y="602.17" width="2.2" height="2.2"/><rect x="835.30" y="602.17" width="2.2" height="2.2"/><rect x="826.74" y="602.17" width="2.2" height="2.2"/><rect x="818.18" y="602.17" width="2.2" height="2.2"/><rect x="809.62" y="602.17" width="2.2" height="2.2"/><rect x="801.06" y="602.17" width="2.2" height="2.2"/><rect x="792.50" y="602.17" width="2.2" height="2.2"/><rect x="783.94" y="602.17" width="2.2" height="2.2"/><rect x="775.38" y="602.17" width="2.2" height="2.2"/><rect x="766.82" y="602.17" width="2.2" height="2.2"/><rect x="758.26" y="602.17" width="2.2" height="2.2"/><rect x="749.70" y="602.17" width="2.2" height="2.2"/><rect x="741.14" y="602.17" width="2.2" height="2.2"/><rect x="732.58" y="602.17" width="2.2" height="2.2"/><rect x="724.02" y="602.17" width="2.2" height="2.2"/><rect x="715.46" y="602.17" width="2.2" height="2.2"/><rect x="706.90" y="602.17" width="2.2" height="2.2"/><rect x="698.34" y="602.17" width="2.2" height="2.2"/><rect x="689.78" y="602.17" width="2.2" height="2.2"/><rect x="681.22" y="602.17" width="2.2" height="2.2"/><rect x="672.66" y="602.17" width="2.2" height="2.2"/><rect x="664.10" y="602.17" width="2.2" height="2.2"/><rect x="655.54" y="602.17" width="2.2" height="2.2"/><rect x="646.98" y="602.17" width="2.2" height="2.2"/><rect x="638.42" y="602.17" width="2.2" height="2.2"/><rect x="629.86" y="602.17" width="2.2" height="2.2"/><rect x="621.30" y="602.17" width="2.2" height="2.2"/><rect x="612.74" y="602.17" width="2.2" height="2.2"/><rect x="604.18" y="602.17" width="2.2" height="2.2"/><rect x="595.62" y="602.17" width="2.2" height="2.2"/><rect x="587.06" y="602.17" width="2.2" height="2.2"/><rect x="578.50" y="602.17" width="2.2" height="2.2"/><rect x="569.94" y="602.17" width="2.2" height="2.2"/><rect x="561.38" y="602.17" width="2.2" height="2.2"/><rect x="552.82" y="602.17" width="2.2" height="2.2"/><rect x="544.26" y="602.17" width="2.2" height="2.2"/><rect x="535.70" y="602.17" width="2.2" height="2.2"/><rect x="527.14" y="602.17" width="2.2" height="2.2"/><rect x="518.58" y="602.17" width="2.2" height="2.2"/><rect x="510.02" y="602.17" width="2.2" height="2.2"/><rect x="501.46" y="602.17" width="2.2" height="2.2"/><rect x="492.90" y="602.17" width="2.2" height="2.2"/><rect x="878.65" y="652.48" width="2.7" height="2.7"/><rect x="870.09" y="652.48" width="2.7" height="2.7"/><rect x="861.53" y="652.48" width="2.7" height="2.7"/><rect x="852.97" y="652.48" width="2.7" height="2.7"/><rect x="844.41" y="652.48" width="2.7" height="2.7"/><rect x="835.85" y="652.48" width="2.7" height="2.7"/><rect x="827.29" y="652.48" width="2.7" height="2.7"/><rect x="818.73" y="652.48" width="2.7" height="2.7"/><rect x="810.17" y="652.48" width="2.7" height="2.7"/><rect x="801.61" y="652.48" width="2.7" height="2.7"/><rect x="793.05" y="652.48" width="2.7" height="2.7"/><rect x="784.49" y="652.48" width="2.7" height="2.7"/><rect x="775.93" y="652.48" width="2.7" height="2.7"/><rect x="767.37" y="652.48" width="2.7" height="2.7"/><rect x="758.81" y="652.48" width="2.7" height="2.7"/><rect x="750.25" y="652.48" width="2.7" height="2.7"/><rect x="741.69" y="652.48" width="2.7" height="2.7"/><rect x="733.13" y="652.48" width="2.7" height="2.7"/><rect x="724.57" y="652.48" width="2.7" height="2.7"/><rect x="716.01" y="652.48" width="2.7" height="2.7"/><rect x="707.45" y="652.48" width="2.7" height="2.7"/><rect x="698.89" y="652.48" width="2.7" height="2.7"/><rect x="690.33" y="652.48" width="2.7" height="2.7"/><rect x="681.77" y="652.48" width="2.7" height="2.7"/><rect x="673.21" y="652.48" width="2.7" height="2.7"/><rect x="664.65" y="652.48" width="2.7" height="2.7"/><rect x="656.09" y="652.48" width="2.7" height="2.7"/><rect x="647.53" y="652.48" width="2.7" height="2.7"/><rect x="638.97" y="652.48" width="2.7" height="2.7"/><rect x="630.41" y="652.48" width="2.7" height="2.7"/><rect x="621.85" y="652.48" width="2.7" height="2.7"/><rect x="613.29" y="652.48" width="2.7" height="2.7"/><rect x="604.73" y="652.48" width="2.7" height="2.7"/><rect x="596.17" y="652.48" width="2.7" height="2.7"/><rect x="587.61" y="652.48" width="2.7" height="2.7"/><rect x="579.05" y="652.48" width="2.7" height="2.7"/><rect x="570.49" y="652.48" width="2.7" height="2.7"/><rect x="561.93" y="652.48" width="2.7" height="2.7"/><rect x="553.37" y="652.48" width="2.7" height="2.7"/><rect x="544.81" y="652.48" width="2.7" height="2.7"/><rect x="536.25" y="652.48" width="2.7" height="2.7"/><rect x="527.69" y="652.48" width="2.7" height="2.7"/><rect x="519.13" y="652.48" width="2.7" height="2.7"/><rect x="510.57" y="652.48" width="2.7" height="2.7"/><rect x="502.01" y="652.48" width="2.7" height="2.7"/><rect x="493.45" y="652.48" width="2.7" height="2.7"/><rect x="484.89" y="652.48" width="2.7" height="2.7"/><rect x="476.33" y="652.48" width="2.7" height="2.7"/><rect x="467.77" y="652.48" width="2.7" height="2.7"/><rect x="459.21" y="652.48" width="2.7" height="2.7"/><rect x="450.65" y="652.48" width="2.7" height="2.7"/><rect x="442.09" y="652.48" width="2.7" height="2.7"/><rect x="433.53" y="652.48" width="2.7" height="2.7"/><rect x="424.97" y="652.48" width="2.7" height="2.7"/><rect x="416.41" y="652.48" width="2.7" height="2.7"/><rect x="407.85" y="652.48" width="2.7" height="2.7"/><rect x="399.29" y="652.48" width="2.7" height="2.7"/><rect x="390.73" y="652.48" width="2.7" height="2.7"/><rect x="382.17" y="652.48" width="2.7" height="2.7"/><rect x="373.61" y="652.48" width="2.7" height="2.7"/><rect x="365.05" y="652.48" width="2.7" height="2.7"/><rect x="356.49" y="652.48" width="2.7" height="2.7"/><rect x="347.93" y="652.48" width="2.7" height="2.7"/><rect x="339.37" y="652.48" width="2.7" height="2.7"/><rect x="330.81" y="652.48" width="2.7" height="2.7"/><rect x="322.25" y="652.48" width="2.7" height="2.7"/><rect x="313.69" y="652.48" width="2.7" height="2.7"/><rect x="305.13" y="652.48" width="2.7" height="2.7"/><rect x="296.57" y="652.48" width="2.7" height="2.7"/><rect x="288.01" y="652.48" width="2.7" height="2.7"/><rect x="279.45" y="652.48" width="2.7" height="2.7"/><rect x="270.89" y="652.48" width="2.7" height="2.7"/><rect x="262.33" y="652.48" width="2.7" height="2.7"/><rect x="253.77" y="652.48" width="2.7" height="2.7"/><rect x="245.21" y="652.48" width="2.7" height="2.7"/><rect x="236.65" y="652.48" width="2.7" height="2.7"/><rect x="228.09" y="652.48" width="2.7" height="2.7"/><rect x="219.53" y="652.48" width="2.7" height="2.7"/><rect x="210.97" y="652.48" width="2.7" height="2.7"/><rect x="202.41" y="652.48" width="2.7" height="2.7"/><rect x="193.85" y="652.48" width="2.7" height="2.7"/><rect x="185.29" y="652.48" width="2.7" height="2.7"/><rect x="176.73" y="652.48" width="2.7" height="2.7"/><rect x="878.10" y="698.17" width="2.2" height="2.2"/><rect x="869.54" y="698.17" width="2.2" height="2.2"/><rect x="860.98" y="698.17" width="2.2" height="2.2"/><rect x="852.42" y="698.17" width="2.2" height="2.2"/><rect x="843.86" y="698.17" width="2.2" height="2.2"/><rect x="835.30" y="698.17" width="2.2" height="2.2"/><rect x="826.74" y="698.17" width="2.2" height="2.2"/><rect x="818.18" y="698.17" width="2.2" height="2.2"/><rect x="809.62" y="698.17" width="2.2" height="2.2"/><rect x="801.06" y="698.17" width="2.2" height="2.2"/><rect x="792.50" y="698.17" width="2.2" height="2.2"/><rect x="783.94" y="698.17" width="2.2" height="2.2"/><rect x="775.38" y="698.17" width="2.2" height="2.2"/><rect x="766.82" y="698.17" width="2.2" height="2.2"/><rect x="758.26" y="698.17" width="2.2" height="2.2"/><rect x="749.70" y="698.17" width="2.2" height="2.2"/><rect x="741.14" y="698.17" width="2.2" height="2.2"/><rect x="732.58" y="698.17" width="2.2" height="2.2"/><rect x="724.02" y="698.17" width="2.2" height="2.2"/><rect x="715.46" y="698.17" width="2.2" height="2.2"/><rect x="706.90" y="698.17" width="2.2" height="2.2"/><rect x="698.34" y="698.17" width="2.2" height="2.2"/><rect x="689.78" y="698.17" width="2.2" height="2.2"/><rect x="681.22" y="698.17" width="2.2" height="2.2"/><rect x="672.66" y="698.17" width="2.2" height="2.2"/><rect x="664.10" y="698.17" width="2.2" height="2.2"/><rect x="655.54" y="698.17" width="2.2" height="2.2"/><rect x="646.98" y="698.17" width="2.2" height="2.2"/><rect x="638.42" y="698.17" width="2.2" height="2.2"/><rect x="629.86" y="698.17" width="2.2" height="2.2"/><rect x="621.30" y="698.17" width="2.2" height="2.2"/><rect x="612.74" y="698.17" width="2.2" height="2.2"/><rect x="604.18" y="698.17" width="2.2" height="2.2"/><rect x="595.62" y="698.17" width="2.2" height="2.2"/><rect x="587.06" y="698.17" width="2.2" height="2.2"/><rect x="578.50" y="698.17" width="2.2" height="2.2"/><rect x="569.94" y="698.17" width="2.2" height="2.2"/><rect x="561.38" y="698.17" width="2.2" height="2.2"/><rect x="552.82" y="698.17" width="2.2" height="2.2"/><rect x="544.26" y="698.17" width="2.2" height="2.2"/><rect x="535.70" y="698.17" width="2.2" height="2.2"/><rect x="527.14" y="698.17" width="2.2" height="2.2"/><rect x="518.58" y="698.17" width="2.2" height="2.2"/><rect x="510.02" y="698.17" width="2.2" height="2.2"/><rect x="878.10" y="741.64" width="2.2" height="2.2"/><rect x="869.54" y="741.64" width="2.2" height="2.2"/><rect x="860.98" y="741.64" width="2.2" height="2.2"/><rect x="852.42" y="741.64" width="2.2" height="2.2"/><rect x="843.86" y="741.64" width="2.2" height="2.2"/><rect x="835.30" y="741.64" width="2.2" height="2.2"/><rect x="826.74" y="741.64" width="2.2" height="2.2"/><rect x="818.18" y="741.64" width="2.2" height="2.2"/><rect x="809.62" y="741.64" width="2.2" height="2.2"/><rect x="801.06" y="741.64" width="2.2" height="2.2"/><rect x="792.50" y="741.64" width="2.2" height="2.2"/><rect x="783.94" y="741.64" width="2.2" height="2.2"/><rect x="775.38" y="741.64" width="2.2" height="2.2"/><rect x="766.82" y="741.64" width="2.2" height="2.2"/><rect x="758.26" y="741.64" width="2.2" height="2.2"/><rect x="749.70" y="741.64" width="2.2" height="2.2"/><rect x="741.14" y="741.64" width="2.2" height="2.2"/><rect x="732.58" y="741.64" width="2.2" height="2.2"/><rect x="724.02" y="741.64" width="2.2" height="2.2"/><rect x="715.46" y="741.64" width="2.2" height="2.2"/><rect x="706.90" y="741.64" width="2.2" height="2.2"/><rect x="698.34" y="741.64" width="2.2" height="2.2"/><rect x="689.78" y="741.64" width="2.2" height="2.2"/><rect x="681.22" y="741.64" width="2.2" height="2.2"/><rect x="672.66" y="741.64" width="2.2" height="2.2"/><rect x="664.10" y="741.64" width="2.2" height="2.2"/><rect x="655.54" y="741.64" width="2.2" height="2.2"/><rect x="646.98" y="741.64" width="2.2" height="2.2"/><rect x="638.42" y="741.64" width="2.2" height="2.2"/><rect x="629.86" y="741.64" width="2.2" height="2.2"/><rect x="621.30" y="741.64" width="2.2" height="2.2"/><rect x="612.74" y="741.64" width="2.2" height="2.2"/><rect x="604.18" y="741.64" width="2.2" height="2.2"/><rect x="595.62" y="741.64" width="2.2" height="2.2"/><rect x="587.06" y="741.64" width="2.2" height="2.2"/><rect x="578.50" y="741.64" width="2.2" height="2.2"/><rect x="569.94" y="741.64" width="2.2" height="2.2"/><rect x="561.38" y="741.64" width="2.2" height="2.2"/><rect x="552.82" y="741.64" width="2.2" height="2.2"/><rect x="544.26" y="741.64" width="2.2" height="2.2"/><rect x="535.70" y="741.64" width="2.2" height="2.2"/><rect x="527.14" y="741.64" width="2.2" height="2.2"/><rect x="518.58" y="741.64" width="2.2" height="2.2"/><rect x="510.02" y="741.64" width="2.2" height="2.2"/><rect x="501.46" y="741.64" width="2.2" height="2.2"/><rect x="492.90" y="741.64" width="2.2" height="2.2"/><rect x="484.34" y="741.64" width="2.2" height="2.2"/><rect x="475.78" y="741.64" width="2.2" height="2.2"/><rect x="467.22" y="741.64" width="2.2" height="2.2"/><rect x="458.66" y="741.64" width="2.2" height="2.2"/><rect x="878.10" y="785.10" width="2.2" height="2.2"/><rect x="869.54" y="785.10" width="2.2" height="2.2"/><rect x="860.98" y="785.10" width="2.2" height="2.2"/><rect x="852.42" y="785.10" width="2.2" height="2.2"/><rect x="843.86" y="785.10" width="2.2" height="2.2"/><rect x="835.30" y="785.10" width="2.2" height="2.2"/><rect x="826.74" y="785.10" width="2.2" height="2.2"/><rect x="818.18" y="785.10" width="2.2" height="2.2"/><rect x="809.62" y="785.10" width="2.2" height="2.2"/><rect x="801.06" y="785.10" width="2.2" height="2.2"/><rect x="792.50" y="785.10" width="2.2" height="2.2"/><rect x="783.94" y="785.10" width="2.2" height="2.2"/><rect x="775.38" y="785.10" width="2.2" height="2.2"/><rect x="766.82" y="785.10" width="2.2" height="2.2"/><rect x="758.26" y="785.10" width="2.2" height="2.2"/><rect x="749.70" y="785.10" width="2.2" height="2.2"/><rect x="741.14" y="785.10" width="2.2" height="2.2"/><rect x="732.58" y="785.10" width="2.2" height="2.2"/><rect x="724.02" y="785.10" width="2.2" height="2.2"/><rect x="715.46" y="785.10" width="2.2" height="2.2"/><rect x="706.90" y="785.10" width="2.2" height="2.2"/><rect x="698.34" y="785.10" width="2.2" height="2.2"/><rect x="689.78" y="785.10" width="2.2" height="2.2"/><rect x="681.22" y="785.10" width="2.2" height="2.2"/><rect x="672.66" y="785.10" width="2.2" height="2.2"/><rect x="664.10" y="785.10" width="2.2" height="2.2"/><rect x="655.54" y="785.10" width="2.2" height="2.2"/><rect x="646.98" y="785.10" width="2.2" height="2.2"/><rect x="638.42" y="785.10" width="2.2" height="2.2"/><rect x="629.86" y="785.10" width="2.2" height="2.2"/><rect x="621.30" y="785.10" width="2.2" height="2.2"/><rect x="612.74" y="785.10" width="2.2" height="2.2"/><rect x="604.18" y="785.10" width="2.2" height="2.2"/><rect x="595.62" y="785.10" width="2.2" height="2.2"/><rect x="587.06" y="785.10" width="2.2" height="2.2"/><rect x="578.50" y="785.10" width="2.2" height="2.2"/><rect x="569.94" y="785.10" width="2.2" height="2.2"/><rect x="561.38" y="785.10" width="2.2" height="2.2"/><rect x="552.82" y="785.10" width="2.2" height="2.2"/><rect x="544.26" y="785.10" width="2.2" height="2.2"/><rect x="535.70" y="785.10" width="2.2" height="2.2"/><rect x="527.14" y="785.10" width="2.2" height="2.2"/><rect x="518.58" y="785.10" width="2.2" height="2.2"/><rect x="510.02" y="785.10" width="2.2" height="2.2"/><rect x="501.46" y="785.10" width="2.2" height="2.2"/><rect x="492.90" y="785.10" width="2.2" height="2.2"/><rect x="484.34" y="785.10" width="2.2" height="2.2"/><rect x="475.78" y="785.10" width="2.2" height="2.2"/><rect x="878.10" y="828.57" width="2.2" height="2.2"/><rect x="869.54" y="828.57" width="2.2" height="2.2"/><rect x="860.98" y="828.57" width="2.2" height="2.2"/><rect x="852.42" y="828.57" width="2.2" height="2.2"/><rect x="843.86" y="828.57" width="2.2" height="2.2"/><rect x="835.30" y="828.57" width="2.2" height="2.2"/><rect x="826.74" y="828.57" width="2.2" height="2.2"/><rect x="818.18" y="828.57" width="2.2" height="2.2"/><rect x="809.62" y="828.57" width="2.2" height="2.2"/><rect x="801.06" y="828.57" width="2.2" height="2.2"/><rect x="792.50" y="828.57" width="2.2" height="2.2"/><rect x="783.94" y="828.57" width="2.2" height="2.2"/><rect x="775.38" y="828.57" width="2.2" height="2.2"/><rect x="766.82" y="828.57" width="2.2" height="2.2"/><rect x="758.26" y="828.57" width="2.2" height="2.2"/><rect x="749.70" y="828.57" width="2.2" height="2.2"/><rect x="741.14" y="828.57" width="2.2" height="2.2"/><rect x="732.58" y="828.57" width="2.2" height="2.2"/><rect x="724.02" y="828.57" width="2.2" height="2.2"/><rect x="715.46" y="828.57" width="2.2" height="2.2"/><rect x="706.90" y="828.57" width="2.2" height="2.2"/><rect x="698.34" y="828.57" width="2.2" height="2.2"/><rect x="689.78" y="828.57" width="2.2" height="2.2"/><rect x="681.22" y="828.57" width="2.2" height="2.2"/><rect x="672.66" y="828.57" width="2.2" height="2.2"/><rect x="664.10" y="828.57" width="2.2" height="2.2"/><rect x="655.54" y="828.57" width="2.2" height="2.2"/><rect x="646.98" y="828.57" width="2.2" height="2.2"/><rect x="638.42" y="828.57" width="2.2" height="2.2"/><rect x="629.86" y="828.57" width="2.2" height="2.2"/><rect x="621.30" y="828.57" width="2.2" height="2.2"/><rect x="612.74" y="828.57" width="2.2" height="2.2"/><rect x="604.18" y="828.57" width="2.2" height="2.2"/><rect x="595.62" y="828.57" width="2.2" height="2.2"/><rect x="587.06" y="828.57" width="2.2" height="2.2"/><rect x="578.50" y="828.57" width="2.2" height="2.2"/><rect x="569.94" y="828.57" width="2.2" height="2.2"/><rect x="561.38" y="828.57" width="2.2" height="2.2"/><rect x="552.82" y="828.57" width="2.2" height="2.2"/><rect x="544.26" y="828.57" width="2.2" height="2.2"/><rect x="535.70" y="828.57" width="2.2" height="2.2"/><rect x="527.14" y="828.57" width="2.2" height="2.2"/><rect x="518.58" y="828.57" width="2.2" height="2.2"/><rect x="510.02" y="828.57" width="2.2" height="2.2"/><rect x="501.46" y="828.57" width="2.2" height="2.2"/><rect x="492.90" y="828.57" width="2.2" height="2.2"/><rect x="484.34" y="828.57" width="2.2" height="2.2"/><rect x="475.78" y="828.57" width="2.2" height="2.2"/><rect x="467.22" y="828.57" width="2.2" height="2.2"/><rect x="458.66" y="828.57" width="2.2" height="2.2"/><rect x="450.10" y="828.57" width="2.2" height="2.2"/><rect x="441.54" y="828.57" width="2.2" height="2.2"/><rect x="432.98" y="828.57" width="2.2" height="2.2"/><rect x="424.42" y="828.57" width="2.2" height="2.2"/><rect x="415.86" y="828.57" width="2.2" height="2.2"/><rect x="407.30" y="828.57" width="2.2" height="2.2"/><rect x="398.74" y="828.57" width="2.2" height="2.2"/><rect x="390.18" y="828.57" width="2.2" height="2.2"/><rect x="381.62" y="828.57" width="2.2" height="2.2"/><rect x="373.06" y="828.57" width="2.2" height="2.2"/><rect x="364.50" y="828.57" width="2.2" height="2.2"/><rect x="355.94" y="828.57" width="2.2" height="2.2"/><rect x="347.38" y="828.57" width="2.2" height="2.2"/><rect x="338.82" y="828.57" width="2.2" height="2.2"/><rect x="330.26" y="828.57" width="2.2" height="2.2"/><rect x="321.70" y="828.57" width="2.2" height="2.2"/><rect x="313.14" y="828.57" width="2.2" height="2.2"/><rect x="304.58" y="828.57" width="2.2" height="2.2"/><rect x="296.02" y="828.57" width="2.2" height="2.2"/><rect x="287.46" y="828.57" width="2.2" height="2.2"/><rect x="878.65" y="878.88" width="2.7" height="2.7"/><rect x="870.09" y="878.88" width="2.7" height="2.7"/><rect x="861.53" y="878.88" width="2.7" height="2.7"/><rect x="852.97" y="878.88" width="2.7" height="2.7"/><rect x="844.41" y="878.88" width="2.7" height="2.7"/><rect x="835.85" y="878.88" width="2.7" height="2.7"/><rect x="827.29" y="878.88" width="2.7" height="2.7"/><rect x="818.73" y="878.88" width="2.7" height="2.7"/><rect x="810.17" y="878.88" width="2.7" height="2.7"/><rect x="801.61" y="878.88" width="2.7" height="2.7"/><rect x="793.05" y="878.88" width="2.7" height="2.7"/><rect x="784.49" y="878.88" width="2.7" height="2.7"/><rect x="775.93" y="878.88" width="2.7" height="2.7"/><rect x="767.37" y="878.88" width="2.7" height="2.7"/><rect x="758.81" y="878.88" width="2.7" height="2.7"/><rect x="750.25" y="878.88" width="2.7" height="2.7"/><rect x="741.69" y="878.88" width="2.7" height="2.7"/><rect x="733.13" y="878.88" width="2.7" height="2.7"/><rect x="724.57" y="878.88" width="2.7" height="2.7"/><rect x="716.01" y="878.88" width="2.7" height="2.7"/><rect x="707.45" y="878.88" width="2.7" height="2.7"/><rect x="698.89" y="878.88" width="2.7" height="2.7"/><rect x="690.33" y="878.88" width="2.7" height="2.7"/><rect x="681.77" y="878.88" width="2.7" height="2.7"/><rect x="673.21" y="878.88" width="2.7" height="2.7"/><rect x="664.65" y="878.88" width="2.7" height="2.7"/><rect x="656.09" y="878.88" width="2.7" height="2.7"/><rect x="647.53" y="878.88" width="2.7" height="2.7"/><rect x="638.97" y="878.88" width="2.7" height="2.7"/><rect x="630.41" y="878.88" width="2.7" height="2.7"/><rect x="621.85" y="878.88" width="2.7" height="2.7"/><rect x="613.29" y="878.88" width="2.7" height="2.7"/><rect x="604.73" y="878.88" width="2.7" height="2.7"/><rect x="596.17" y="878.88" width="2.7" height="2.7"/><rect x="587.61" y="878.88" width="2.7" height="2.7"/><rect x="579.05" y="878.88" width="2.7" height="2.7"/><rect x="570.49" y="878.88" width="2.7" height="2.7"/><rect x="561.93" y="878.88" width="2.7" height="2.7"/><rect x="553.37" y="878.88" width="2.7" height="2.7"/><rect x="544.81" y="878.88" width="2.7" height="2.7"/><rect x="536.25" y="878.88" width="2.7" height="2.7"/><rect x="527.69" y="878.88" width="2.7" height="2.7"/><rect x="519.13" y="878.88" width="2.7" height="2.7"/><rect x="510.57" y="878.88" width="2.7" height="2.7"/><rect x="502.01" y="878.88" width="2.7" height="2.7"/><rect x="493.45" y="878.88" width="2.7" height="2.7"/><rect x="484.89" y="878.88" width="2.7" height="2.7"/><rect x="476.33" y="878.88" width="2.7" height="2.7"/><rect x="467.77" y="878.88" width="2.7" height="2.7"/><rect x="459.21" y="878.88" width="2.7" height="2.7"/><rect x="450.65" y="878.88" width="2.7" height="2.7"/><rect x="442.09" y="878.88" width="2.7" height="2.7"/><rect x="433.53" y="878.88" width="2.7" height="2.7"/><rect x="424.97" y="878.88" width="2.7" height="2.7"/><rect x="416.41" y="878.88" width="2.7" height="2.7"/><rect x="407.85" y="878.88" width="2.7" height="2.7"/><rect x="399.29" y="878.88" width="2.7" height="2.7"/><rect x="390.73" y="878.88" width="2.7" height="2.7"/><rect x="878.10" y="924.57" width="2.2" height="2.2"/><rect x="869.54" y="924.57" width="2.2" height="2.2"/><rect x="860.98" y="924.57" width="2.2" height="2.2"/><rect x="852.42" y="924.57" width="2.2" height="2.2"/><rect x="843.86" y="924.57" width="2.2" height="2.2"/><rect x="835.30" y="924.57" width="2.2" height="2.2"/><rect x="826.74" y="924.57" width="2.2" height="2.2"/><rect x="818.18" y="924.57" width="2.2" height="2.2"/><rect x="809.62" y="924.57" width="2.2" height="2.2"/><rect x="801.06" y="924.57" width="2.2" height="2.2"/><rect x="792.50" y="924.57" width="2.2" height="2.2"/><rect x="783.94" y="924.57" width="2.2" height="2.2"/><rect x="775.38" y="924.57" width="2.2" height="2.2"/><rect x="766.82" y="924.57" width="2.2" height="2.2"/><rect x="758.26" y="924.57" width="2.2" height="2.2"/><rect x="749.70" y="924.57" width="2.2" height="2.2"/><rect x="741.14" y="924.57" width="2.2" height="2.2"/><rect x="732.58" y="924.57" width="2.2" height="2.2"/><rect x="724.02" y="924.57" width="2.2" height="2.2"/><rect x="715.46" y="924.57" width="2.2" height="2.2"/><rect x="706.90" y="924.57" width="2.2" height="2.2"/><rect x="698.34" y="924.57" width="2.2" height="2.2"/><rect x="689.78" y="924.57" width="2.2" height="2.2"/><rect x="681.22" y="924.57" width="2.2" height="2.2"/><rect x="672.66" y="924.57" width="2.2" height="2.2"/><rect x="664.10" y="924.57" width="2.2" height="2.2"/><rect x="655.54" y="924.57" width="2.2" height="2.2"/><rect x="646.98" y="924.57" width="2.2" height="2.2"/><rect x="638.42" y="924.57" width="2.2" height="2.2"/><rect x="629.86" y="924.57" width="2.2" height="2.2"/><rect x="621.30" y="924.57" width="2.2" height="2.2"/><rect x="612.74" y="924.57" width="2.2" height="2.2"/><rect x="604.18" y="924.57" width="2.2" height="2.2"/><rect x="595.62" y="924.57" width="2.2" height="2.2"/><rect x="587.06" y="924.57" width="2.2" height="2.2"/><rect x="578.50" y="924.57" width="2.2" height="2.2"/><rect x="569.94" y="924.57" width="2.2" height="2.2"/><rect x="561.38" y="924.57" width="2.2" height="2.2"/><rect x="552.82" y="924.57" width="2.2" height="2.2"/><rect x="544.26" y="924.57" width="2.2" height="2.2"/><rect x="535.70" y="924.57" width="2.2" height="2.2"/><rect x="527.14" y="924.57" width="2.2" height="2.2"/><rect x="518.58" y="924.57" width="2.2" height="2.2"/><rect x="510.02" y="924.57" width="2.2" height="2.2"/><rect x="501.46" y="924.57" width="2.2" height="2.2"/><rect x="492.90" y="924.57" width="2.2" height="2.2"/><rect x="484.34" y="924.57" width="2.2" height="2.2"/><rect x="475.78" y="924.57" width="2.2" height="2.2"/><rect x="467.22" y="924.57" width="2.2" height="2.2"/><rect x="458.66" y="924.57" width="2.2" height="2.2"/><rect x="450.10" y="924.57" width="2.2" height="2.2"/><rect x="878.10" y="968.03" width="2.2" height="2.2"/><rect x="869.54" y="968.03" width="2.2" height="2.2"/><rect x="860.98" y="968.03" width="2.2" height="2.2"/><rect x="852.42" y="968.03" width="2.2" height="2.2"/><rect x="843.86" y="968.03" width="2.2" height="2.2"/><rect x="835.30" y="968.03" width="2.2" height="2.2"/><rect x="826.74" y="968.03" width="2.2" height="2.2"/><rect x="818.18" y="968.03" width="2.2" height="2.2"/><rect x="809.62" y="968.03" width="2.2" height="2.2"/><rect x="801.06" y="968.03" width="2.2" height="2.2"/><rect x="792.50" y="968.03" width="2.2" height="2.2"/><rect x="783.94" y="968.03" width="2.2" height="2.2"/><rect x="775.38" y="968.03" width="2.2" height="2.2"/><rect x="766.82" y="968.03" width="2.2" height="2.2"/><rect x="758.26" y="968.03" width="2.2" height="2.2"/><rect x="749.70" y="968.03" width="2.2" height="2.2"/><rect x="741.14" y="968.03" width="2.2" height="2.2"/><rect x="732.58" y="968.03" width="2.2" height="2.2"/><rect x="724.02" y="968.03" width="2.2" height="2.2"/><rect x="715.46" y="968.03" width="2.2" height="2.2"/><rect x="706.90" y="968.03" width="2.2" height="2.2"/><rect x="698.34" y="968.03" width="2.2" height="2.2"/><rect x="689.78" y="968.03" width="2.2" height="2.2"/><rect x="681.22" y="968.03" width="2.2" height="2.2"/><rect x="672.66" y="968.03" width="2.2" height="2.2"/><rect x="664.10" y="968.03" width="2.2" height="2.2"/><rect x="655.54" y="968.03" width="2.2" height="2.2"/><rect x="646.98" y="968.03" width="2.2" height="2.2"/><rect x="638.42" y="968.03" width="2.2" height="2.2"/><rect x="629.86" y="968.03" width="2.2" height="2.2"/><rect x="621.30" y="968.03" width="2.2" height="2.2"/><rect x="612.74" y="968.03" width="2.2" height="2.2"/><rect x="604.18" y="968.03" width="2.2" height="2.2"/><rect x="595.62" y="968.03" width="2.2" height="2.2"/><rect x="587.06" y="968.03" width="2.2" height="2.2"/><rect x="578.50" y="968.03" width="2.2" height="2.2"/><rect x="569.94" y="968.03" width="2.2" height="2.2"/><rect x="561.38" y="968.03" width="2.2" height="2.2"/><rect x="552.82" y="968.03" width="2.2" height="2.2"/><rect x="544.26" y="968.03" width="2.2" height="2.2"/><rect x="535.70" y="968.03" width="2.2" height="2.2"/><rect x="527.14" y="968.03" width="2.2" height="2.2"/><rect x="518.58" y="968.03" width="2.2" height="2.2"/><rect x="510.02" y="968.03" width="2.2" height="2.2"/><rect x="501.46" y="968.03" width="2.2" height="2.2"/><rect x="492.90" y="968.03" width="2.2" height="2.2"/><rect x="484.34" y="968.03" width="2.2" height="2.2"/><rect x="475.78" y="968.03" width="2.2" height="2.2"/><rect x="467.22" y="968.03" width="2.2" height="2.2"/><rect x="458.66" y="968.03" width="2.2" height="2.2"/><rect x="450.10" y="968.03" width="2.2" height="2.2"/><rect x="441.54" y="968.03" width="2.2" height="2.2"/><rect x="878.10" y="1011.50" width="2.2" height="2.2"/><rect x="869.54" y="1011.50" width="2.2" height="2.2"/><rect x="860.98" y="1011.50" width="2.2" height="2.2"/><rect x="852.42" y="1011.50" width="2.2" height="2.2"/><rect x="843.86" y="1011.50" width="2.2" height="2.2"/><rect x="835.30" y="1011.50" width="2.2" height="2.2"/><rect x="826.74" y="1011.50" width="2.2" height="2.2"/><rect x="818.18" y="1011.50" width="2.2" height="2.2"/><rect x="809.62" y="1011.50" width="2.2" height="2.2"/><rect x="801.06" y="1011.50" width="2.2" height="2.2"/><rect x="792.50" y="1011.50" width="2.2" height="2.2"/><rect x="783.94" y="1011.50" width="2.2" height="2.2"/><rect x="775.38" y="1011.50" width="2.2" height="2.2"/><rect x="766.82" y="1011.50" width="2.2" height="2.2"/><rect x="758.26" y="1011.50" width="2.2" height="2.2"/><rect x="749.70" y="1011.50" width="2.2" height="2.2"/><rect x="741.14" y="1011.50" width="2.2" height="2.2"/><rect x="732.58" y="1011.50" width="2.2" height="2.2"/><rect x="724.02" y="1011.50" width="2.2" height="2.2"/><rect x="715.46" y="1011.50" width="2.2" height="2.2"/><rect x="706.90" y="1011.50" width="2.2" height="2.2"/><rect x="698.34" y="1011.50" width="2.2" height="2.2"/><rect x="689.78" y="1011.50" width="2.2" height="2.2"/><rect x="681.22" y="1011.50" width="2.2" height="2.2"/><rect x="672.66" y="1011.50" width="2.2" height="2.2"/><rect x="664.10" y="1011.50" width="2.2" height="2.2"/><rect x="655.54" y="1011.50" width="2.2" height="2.2"/><rect x="646.98" y="1011.50" width="2.2" height="2.2"/><rect x="638.42" y="1011.50" width="2.2" height="2.2"/><rect x="629.86" y="1011.50" width="2.2" height="2.2"/><rect x="621.30" y="1011.50" width="2.2" height="2.2"/><rect x="612.74" y="1011.50" width="2.2" height="2.2"/><rect x="604.18" y="1011.50" width="2.2" height="2.2"/><rect x="595.62" y="1011.50" width="2.2" height="2.2"/><rect x="587.06" y="1011.50" width="2.2" height="2.2"/><rect x="578.50" y="1011.50" width="2.2" height="2.2"/><rect x="878.10" y="1054.97" width="2.2" height="2.2"/><rect x="869.54" y="1054.97" width="2.2" height="2.2"/><rect x="860.98" y="1054.97" width="2.2" height="2.2"/><rect x="852.42" y="1054.97" width="2.2" height="2.2"/><rect x="843.86" y="1054.97" width="2.2" height="2.2"/><rect x="835.30" y="1054.97" width="2.2" height="2.2"/><rect x="826.74" y="1054.97" width="2.2" height="2.2"/><rect x="818.18" y="1054.97" width="2.2" height="2.2"/><rect x="809.62" y="1054.97" width="2.2" height="2.2"/><rect x="801.06" y="1054.97" width="2.2" height="2.2"/><rect x="792.50" y="1054.97" width="2.2" height="2.2"/><rect x="783.94" y="1054.97" width="2.2" height="2.2"/><rect x="775.38" y="1054.97" width="2.2" height="2.2"/><rect x="766.82" y="1054.97" width="2.2" height="2.2"/><rect x="758.26" y="1054.97" width="2.2" height="2.2"/><rect x="749.70" y="1054.97" width="2.2" height="2.2"/><rect x="741.14" y="1054.97" width="2.2" height="2.2"/><rect x="732.58" y="1054.97" width="2.2" height="2.2"/><rect x="724.02" y="1054.97" width="2.2" height="2.2"/><rect x="715.46" y="1054.97" width="2.2" height="2.2"/><rect x="706.90" y="1054.97" width="2.2" height="2.2"/><rect x="698.34" y="1054.97" width="2.2" height="2.2"/><rect x="689.78" y="1054.97" width="2.2" height="2.2"/><rect x="681.22" y="1054.97" width="2.2" height="2.2"/><rect x="672.66" y="1054.97" width="2.2" height="2.2"/><rect x="664.10" y="1054.97" width="2.2" height="2.2"/><rect x="655.54" y="1054.97" width="2.2" height="2.2"/><rect x="646.98" y="1054.97" width="2.2" height="2.2"/><rect x="638.42" y="1054.97" width="2.2" height="2.2"/><rect x="629.86" y="1054.97" width="2.2" height="2.2"/><rect x="621.30" y="1054.97" width="2.2" height="2.2"/><rect x="612.74" y="1054.97" width="2.2" height="2.2"/><rect x="604.18" y="1054.97" width="2.2" height="2.2"/><rect x="595.62" y="1054.97" width="2.2" height="2.2"/><rect x="587.06" y="1054.97" width="2.2" height="2.2"/><rect x="878.10" y="1098.43" width="2.2" height="2.2"/><rect x="869.54" y="1098.43" width="2.2" height="2.2"/><rect x="860.98" y="1098.43" width="2.2" height="2.2"/><rect x="852.42" y="1098.43" width="2.2" height="2.2"/><rect x="843.86" y="1098.43" width="2.2" height="2.2"/><rect x="835.30" y="1098.43" width="2.2" height="2.2"/><rect x="826.74" y="1098.43" width="2.2" height="2.2"/><rect x="818.18" y="1098.43" width="2.2" height="2.2"/><rect x="809.62" y="1098.43" width="2.2" height="2.2"/><rect x="801.06" y="1098.43" width="2.2" height="2.2"/><rect x="792.50" y="1098.43" width="2.2" height="2.2"/><rect x="783.94" y="1098.43" width="2.2" height="2.2"/><rect x="775.38" y="1098.43" width="2.2" height="2.2"/><rect x="766.82" y="1098.43" width="2.2" height="2.2"/><rect x="758.26" y="1098.43" width="2.2" height="2.2"/><rect x="749.70" y="1098.43" width="2.2" height="2.2"/><rect x="741.14" y="1098.43" width="2.2" height="2.2"/><rect x="732.58" y="1098.43" width="2.2" height="2.2"/><rect x="724.02" y="1098.43" width="2.2" height="2.2"/><rect x="715.46" y="1098.43" width="2.2" height="2.2"/><rect x="706.90" y="1098.43" width="2.2" height="2.2"/><rect x="698.34" y="1098.43" width="2.2" height="2.2"/><rect x="689.78" y="1098.43" width="2.2" height="2.2"/><rect x="681.22" y="1098.43" width="2.2" height="2.2"/><rect x="672.66" y="1098.43" width="2.2" height="2.2"/><rect x="664.10" y="1098.43" width="2.2" height="2.2"/><rect x="655.54" y="1098.43" width="2.2" height="2.2"/><rect x="646.98" y="1098.43" width="2.2" height="2.2"/><rect x="638.42" y="1098.43" width="2.2" height="2.2"/><rect x="629.86" y="1098.43" width="2.2" height="2.2"/><rect x="621.30" y="1098.43" width="2.2" height="2.2"/><rect x="612.74" y="1098.43" width="2.2" height="2.2"/><rect x="604.18" y="1098.43" width="2.2" height="2.2"/><rect x="595.62" y="1098.43" width="2.2" height="2.2"/><rect x="587.06" y="1098.43" width="2.2" height="2.2"/><rect x="578.50" y="1098.43" width="2.2" height="2.2"/><rect x="569.94" y="1098.43" width="2.2" height="2.2"/><rect x="561.38" y="1098.43" width="2.2" height="2.2"/><rect x="552.82" y="1098.43" width="2.2" height="2.2"/><rect x="544.26" y="1098.43" width="2.2" height="2.2"/><rect x="535.70" y="1098.43" width="2.2" height="2.2"/><rect x="527.14" y="1098.43" width="2.2" height="2.2"/><rect x="518.58" y="1098.43" width="2.2" height="2.2"/><rect x="510.02" y="1098.43" width="2.2" height="2.2"/><rect x="501.46" y="1098.43" width="2.2" height="2.2"/><rect x="492.90" y="1098.43" width="2.2" height="2.2"/><rect x="484.34" y="1098.43" width="2.2" height="2.2"/><rect x="475.78" y="1098.43" width="2.2" height="2.2"/><rect x="467.22" y="1098.43" width="2.2" height="2.2"/><rect x="458.66" y="1098.43" width="2.2" height="2.2"/><rect x="450.10" y="1098.43" width="2.2" height="2.2"/><rect x="441.54" y="1098.43" width="2.2" height="2.2"/><rect x="432.98" y="1098.43" width="2.2" height="2.2"/><rect x="424.42" y="1098.43" width="2.2" height="2.2"/><rect x="415.86" y="1098.43" width="2.2" height="2.2"/><rect x="407.30" y="1098.43" width="2.2" height="2.2"/><rect x="398.74" y="1098.43" width="2.2" height="2.2"/><rect x="390.18" y="1098.43" width="2.2" height="2.2"/><rect x="381.62" y="1098.43" width="2.2" height="2.2"/><rect x="373.06" y="1098.43" width="2.2" height="2.2"/><rect x="364.50" y="1098.43" width="2.2" height="2.2"/><rect x="355.94" y="1098.43" width="2.2" height="2.2"/><rect x="347.38" y="1098.43" width="2.2" height="2.2"/><rect x="338.82" y="1098.43" width="2.2" height="2.2"/><rect x="330.26" y="1098.43" width="2.2" height="2.2"/><rect x="321.70" y="1098.43" width="2.2" height="2.2"/><rect x="313.14" y="1098.43" width="2.2" height="2.2"/><rect x="304.58" y="1098.43" width="2.2" height="2.2"/><rect x="296.02" y="1098.43" width="2.2" height="2.2"/><rect x="287.46" y="1098.43" width="2.2" height="2.2"/><rect x="278.90" y="1098.43" width="2.2" height="2.2"/><rect x="270.34" y="1098.43" width="2.2" height="2.2"/><rect x="261.78" y="1098.43" width="2.2" height="2.2"/><rect x="878.10" y="1141.90" width="2.2" height="2.2"/><rect x="869.54" y="1141.90" width="2.2" height="2.2"/><rect x="860.98" y="1141.90" width="2.2" height="2.2"/><rect x="852.42" y="1141.90" width="2.2" height="2.2"/><rect x="843.86" y="1141.90" width="2.2" height="2.2"/><rect x="835.30" y="1141.90" width="2.2" height="2.2"/><rect x="826.74" y="1141.90" width="2.2" height="2.2"/><rect x="818.18" y="1141.90" width="2.2" height="2.2"/><rect x="809.62" y="1141.90" width="2.2" height="2.2"/><rect x="801.06" y="1141.90" width="2.2" height="2.2"/><rect x="792.50" y="1141.90" width="2.2" height="2.2"/><rect x="783.94" y="1141.90" width="2.2" height="2.2"/><rect x="775.38" y="1141.90" width="2.2" height="2.2"/><rect x="766.82" y="1141.90" width="2.2" height="2.2"/><rect x="758.26" y="1141.90" width="2.2" height="2.2"/><rect x="749.70" y="1141.90" width="2.2" height="2.2"/><rect x="741.14" y="1141.90" width="2.2" height="2.2"/><rect x="732.58" y="1141.90" width="2.2" height="2.2"/><rect x="724.02" y="1141.90" width="2.2" height="2.2"/><rect x="715.46" y="1141.90" width="2.2" height="2.2"/><rect x="706.90" y="1141.90" width="2.2" height="2.2"/><rect x="698.34" y="1141.90" width="2.2" height="2.2"/><rect x="689.78" y="1141.90" width="2.2" height="2.2"/><rect x="681.22" y="1141.90" width="2.2" height="2.2"/><rect x="672.66" y="1141.90" width="2.2" height="2.2"/><rect x="664.10" y="1141.90" width="2.2" height="2.2"/><rect x="655.54" y="1141.90" width="2.2" height="2.2"/><rect x="646.98" y="1141.90" width="2.2" height="2.2"/><rect x="638.42" y="1141.90" width="2.2" height="2.2"/><rect x="629.86" y="1141.90" width="2.2" height="2.2"/><rect x="621.30" y="1141.90" width="2.2" height="2.2"/><rect x="612.74" y="1141.90" width="2.2" height="2.2"/><rect x="604.18" y="1141.90" width="2.2" height="2.2"/><rect x="595.62" y="1141.90" width="2.2" height="2.2"/><rect x="587.06" y="1141.90" width="2.2" height="2.2"/><rect x="578.50" y="1141.90" width="2.2" height="2.2"/><rect x="569.94" y="1141.90" width="2.2" height="2.2"/><rect x="561.38" y="1141.90" width="2.2" height="2.2"/><rect x="552.82" y="1141.90" width="2.2" height="2.2"/><rect x="544.26" y="1141.90" width="2.2" height="2.2"/><rect x="535.70" y="1141.90" width="2.2" height="2.2"/><rect x="527.14" y="1141.90" width="2.2" height="2.2"/><rect x="518.58" y="1141.90" width="2.2" height="2.2"/><rect x="510.02" y="1141.90" width="2.2" height="2.2"/><rect x="501.46" y="1141.90" width="2.2" height="2.2"/><rect x="492.90" y="1141.90" width="2.2" height="2.2"/><rect x="484.34" y="1141.90" width="2.2" height="2.2"/><rect x="475.78" y="1141.90" width="2.2" height="2.2"/><rect x="467.22" y="1141.90" width="2.2" height="2.2"/><rect x="458.66" y="1141.90" width="2.2" height="2.2"/><rect x="450.10" y="1141.90" width="2.2" height="2.2"/><rect x="441.54" y="1141.90" width="2.2" height="2.2"/><rect x="432.98" y="1141.90" width="2.2" height="2.2"/><rect x="424.42" y="1141.90" width="2.2" height="2.2"/><rect x="415.86" y="1141.90" width="2.2" height="2.2"/><rect x="407.30" y="1141.90" width="2.2" height="2.2"/><rect x="398.74" y="1141.90" width="2.2" height="2.2"/><rect x="390.18" y="1141.90" width="2.2" height="2.2"/><rect x="381.62" y="1141.90" width="2.2" height="2.2"/><rect x="373.06" y="1141.90" width="2.2" height="2.2"/><rect x="364.50" y="1141.90" width="2.2" height="2.2"/><rect x="355.94" y="1141.90" width="2.2" height="2.2"/><rect x="347.38" y="1141.90" width="2.2" height="2.2"/><rect x="338.82" y="1141.90" width="2.2" height="2.2"/><rect x="330.26" y="1141.90" width="2.2" height="2.2"/><rect x="321.70" y="1141.90" width="2.2" height="2.2"/><rect x="313.14" y="1141.90" width="2.2" height="2.2"/><rect x="304.58" y="1141.90" width="2.2" height="2.2"/><rect x="296.02" y="1141.90" width="2.2" height="2.2"/><rect x="287.46" y="1141.90" width="2.2" height="2.2"/><rect x="878.65" y="1192.21" width="2.7" height="2.7"/><rect x="870.09" y="1192.21" width="2.7" height="2.7"/><rect x="861.53" y="1192.21" width="2.7" height="2.7"/><rect x="852.97" y="1192.21" width="2.7" height="2.7"/><rect x="844.41" y="1192.21" width="2.7" height="2.7"/><rect x="835.85" y="1192.21" width="2.7" height="2.7"/><rect x="827.29" y="1192.21" width="2.7" height="2.7"/><rect x="818.73" y="1192.21" width="2.7" height="2.7"/><rect x="810.17" y="1192.21" width="2.7" height="2.7"/><rect x="801.61" y="1192.21" width="2.7" height="2.7"/><rect x="793.05" y="1192.21" width="2.7" height="2.7"/><rect x="784.49" y="1192.21" width="2.7" height="2.7"/><rect x="775.93" y="1192.21" width="2.7" height="2.7"/><rect x="767.37" y="1192.21" width="2.7" height="2.7"/><rect x="758.81" y="1192.21" width="2.7" height="2.7"/><rect x="750.25" y="1192.21" width="2.7" height="2.7"/><rect x="741.69" y="1192.21" width="2.7" height="2.7"/><rect x="733.13" y="1192.21" width="2.7" height="2.7"/><rect x="724.57" y="1192.21" width="2.7" height="2.7"/><rect x="716.01" y="1192.21" width="2.7" height="2.7"/><rect x="707.45" y="1192.21" width="2.7" height="2.7"/><rect x="698.89" y="1192.21" width="2.7" height="2.7"/><rect x="690.33" y="1192.21" width="2.7" height="2.7"/><rect x="681.77" y="1192.21" width="2.7" height="2.7"/><rect x="673.21" y="1192.21" width="2.7" height="2.7"/><rect x="664.65" y="1192.21" width="2.7" height="2.7"/><rect x="656.09" y="1192.21" width="2.7" height="2.7"/><rect x="647.53" y="1192.21" width="2.7" height="2.7"/><rect x="638.97" y="1192.21" width="2.7" height="2.7"/><rect x="630.41" y="1192.21" width="2.7" height="2.7"/><rect x="621.85" y="1192.21" width="2.7" height="2.7"/><rect x="613.29" y="1192.21" width="2.7" height="2.7"/><rect x="604.73" y="1192.21" width="2.7" height="2.7"/><rect x="596.17" y="1192.21" width="2.7" height="2.7"/><rect x="587.61" y="1192.21" width="2.7" height="2.7"/><rect x="579.05" y="1192.21" width="2.7" height="2.7"/><rect x="570.49" y="1192.21" width="2.7" height="2.7"/><rect x="561.93" y="1192.21" width="2.7" height="2.7"/><rect x="553.37" y="1192.21" width="2.7" height="2.7"/><rect x="544.81" y="1192.21" width="2.7" height="2.7"/><rect x="536.25" y="1192.21" width="2.7" height="2.7"/><rect x="527.69" y="1192.21" width="2.7" height="2.7"/><rect x="519.13" y="1192.21" width="2.7" height="2.7"/><rect x="510.57" y="1192.21" width="2.7" height="2.7"/><rect x="502.01" y="1192.21" width="2.7" height="2.7"/><rect x="493.45" y="1192.21" width="2.7" height="2.7"/><rect x="484.89" y="1192.21" width="2.7" height="2.7"/><rect x="476.33" y="1192.21" width="2.7" height="2.7"/><rect x="467.77" y="1192.21" width="2.7" height="2.7"/><rect x="459.21" y="1192.21" width="2.7" height="2.7"/><rect x="450.65" y="1192.21" width="2.7" height="2.7"/><rect x="442.09" y="1192.21" width="2.7" height="2.7"/><rect x="433.53" y="1192.21" width="2.7" height="2.7"/><rect x="424.97" y="1192.21" width="2.7" height="2.7"/><rect x="416.41" y="1192.21" width="2.7" height="2.7"/><rect x="407.85" y="1192.21" width="2.7" height="2.7"/><rect x="399.29" y="1192.21" width="2.7" height="2.7"/><rect x="390.73" y="1192.21" width="2.7" height="2.7"/><rect x="382.17" y="1192.21" width="2.7" height="2.7"/><rect x="373.61" y="1192.21" width="2.7" height="2.7"/><rect x="365.05" y="1192.21" width="2.7" height="2.7"/><rect x="356.49" y="1192.21" width="2.7" height="2.7"/><rect x="347.93" y="1192.21" width="2.7" height="2.7"/><rect x="339.37" y="1192.21" width="2.7" height="2.7"/><rect x="330.81" y="1192.21" width="2.7" height="2.7"/><rect x="322.25" y="1192.21" width="2.7" height="2.7"/><rect x="313.69" y="1192.21" width="2.7" height="2.7"/><rect x="305.13" y="1192.21" width="2.7" height="2.7"/><rect x="296.57" y="1192.21" width="2.7" height="2.7"/><rect x="288.01" y="1192.21" width="2.7" height="2.7"/><rect x="279.45" y="1192.21" width="2.7" height="2.7"/><rect x="270.89" y="1192.21" width="2.7" height="2.7"/><rect x="262.33" y="1192.21" width="2.7" height="2.7"/><rect x="253.77" y="1192.21" width="2.7" height="2.7"/><rect x="878.10" y="1237.90" width="2.2" height="2.2"/><rect x="869.54" y="1237.90" width="2.2" height="2.2"/><rect x="860.98" y="1237.90" width="2.2" height="2.2"/><rect x="852.42" y="1237.90" width="2.2" height="2.2"/><rect x="843.86" y="1237.90" width="2.2" height="2.2"/><rect x="835.30" y="1237.90" width="2.2" height="2.2"/><rect x="826.74" y="1237.90" width="2.2" height="2.2"/><rect x="818.18" y="1237.90" width="2.2" height="2.2"/><rect x="809.62" y="1237.90" width="2.2" height="2.2"/><rect x="801.06" y="1237.90" width="2.2" height="2.2"/><rect x="792.50" y="1237.90" width="2.2" height="2.2"/><rect x="783.94" y="1237.90" width="2.2" height="2.2"/><rect x="775.38" y="1237.90" width="2.2" height="2.2"/><rect x="766.82" y="1237.90" width="2.2" height="2.2"/><rect x="758.26" y="1237.90" width="2.2" height="2.2"/><rect x="749.70" y="1237.90" width="2.2" height="2.2"/><rect x="741.14" y="1237.90" width="2.2" height="2.2"/><rect x="732.58" y="1237.90" width="2.2" height="2.2"/><rect x="724.02" y="1237.90" width="2.2" height="2.2"/><rect x="715.46" y="1237.90" width="2.2" height="2.2"/><rect x="706.90" y="1237.90" width="2.2" height="2.2"/><rect x="698.34" y="1237.90" width="2.2" height="2.2"/><rect x="689.78" y="1237.90" width="2.2" height="2.2"/><rect x="681.22" y="1237.90" width="2.2" height="2.2"/><rect x="672.66" y="1237.90" width="2.2" height="2.2"/><rect x="664.10" y="1237.90" width="2.2" height="2.2"/><rect x="655.54" y="1237.90" width="2.2" height="2.2"/><rect x="646.98" y="1237.90" width="2.2" height="2.2"/><rect x="638.42" y="1237.90" width="2.2" height="2.2"/><rect x="629.86" y="1237.90" width="2.2" height="2.2"/><rect x="621.30" y="1237.90" width="2.2" height="2.2"/><rect x="612.74" y="1237.90" width="2.2" height="2.2"/><rect x="604.18" y="1237.90" width="2.2" height="2.2"/><rect x="595.62" y="1237.90" width="2.2" height="2.2"/><rect x="587.06" y="1237.90" width="2.2" height="2.2"/><rect x="578.50" y="1237.90" width="2.2" height="2.2"/><rect x="569.94" y="1237.90" width="2.2" height="2.2"/><rect x="561.38" y="1237.90" width="2.2" height="2.2"/><rect x="552.82" y="1237.90" width="2.2" height="2.2"/><rect x="544.26" y="1237.90" width="2.2" height="2.2"/><rect x="535.70" y="1237.90" width="2.2" height="2.2"/><rect x="527.14" y="1237.90" width="2.2" height="2.2"/><rect x="518.58" y="1237.90" width="2.2" height="2.2"/><rect x="510.02" y="1237.90" width="2.2" height="2.2"/><rect x="501.46" y="1237.90" width="2.2" height="2.2"/><rect x="492.90" y="1237.90" width="2.2" height="2.2"/><rect x="484.34" y="1237.90" width="2.2" height="2.2"/><rect x="475.78" y="1237.90" width="2.2" height="2.2"/><rect x="467.22" y="1237.90" width="2.2" height="2.2"/><rect x="458.66" y="1237.90" width="2.2" height="2.2"/><rect x="450.10" y="1237.90" width="2.2" height="2.2"/><rect x="441.54" y="1237.90" width="2.2" height="2.2"/><rect x="432.98" y="1237.90" width="2.2" height="2.2"/><rect x="424.42" y="1237.90" width="2.2" height="2.2"/><rect x="415.86" y="1237.90" width="2.2" height="2.2"/><rect x="407.30" y="1237.90" width="2.2" height="2.2"/><rect x="398.74" y="1237.90" width="2.2" height="2.2"/><rect x="390.18" y="1237.90" width="2.2" height="2.2"/><rect x="381.62" y="1237.90" width="2.2" height="2.2"/><rect x="373.06" y="1237.90" width="2.2" height="2.2"/><rect x="364.50" y="1237.90" width="2.2" height="2.2"/><rect x="355.94" y="1237.90" width="2.2" height="2.2"/><rect x="347.38" y="1237.90" width="2.2" height="2.2"/><rect x="338.82" y="1237.90" width="2.2" height="2.2"/><rect x="330.26" y="1237.90" width="2.2" height="2.2"/><rect x="321.70" y="1237.90" width="2.2" height="2.2"/><rect x="313.14" y="1237.90" width="2.2" height="2.2"/><rect x="304.58" y="1237.90" width="2.2" height="2.2"/><rect x="878.10" y="1281.36" width="2.2" height="2.2"/><rect x="869.54" y="1281.36" width="2.2" height="2.2"/><rect x="860.98" y="1281.36" width="2.2" height="2.2"/><rect x="852.42" y="1281.36" width="2.2" height="2.2"/><rect x="843.86" y="1281.36" width="2.2" height="2.2"/><rect x="835.30" y="1281.36" width="2.2" height="2.2"/><rect x="826.74" y="1281.36" width="2.2" height="2.2"/><rect x="818.18" y="1281.36" width="2.2" height="2.2"/><rect x="809.62" y="1281.36" width="2.2" height="2.2"/><rect x="801.06" y="1281.36" width="2.2" height="2.2"/><rect x="792.50" y="1281.36" width="2.2" height="2.2"/><rect x="783.94" y="1281.36" width="2.2" height="2.2"/><rect x="775.38" y="1281.36" width="2.2" height="2.2"/><rect x="766.82" y="1281.36" width="2.2" height="2.2"/><rect x="758.26" y="1281.36" width="2.2" height="2.2"/><rect x="749.70" y="1281.36" width="2.2" height="2.2"/><rect x="741.14" y="1281.36" width="2.2" height="2.2"/><rect x="732.58" y="1281.36" width="2.2" height="2.2"/><rect x="724.02" y="1281.36" width="2.2" height="2.2"/><rect x="715.46" y="1281.36" width="2.2" height="2.2"/><rect x="706.90" y="1281.36" width="2.2" height="2.2"/><rect x="698.34" y="1281.36" width="2.2" height="2.2"/><rect x="689.78" y="1281.36" width="2.2" height="2.2"/><rect x="681.22" y="1281.36" width="2.2" height="2.2"/><rect x="672.66" y="1281.36" width="2.2" height="2.2"/><rect x="664.10" y="1281.36" width="2.2" height="2.2"/><rect x="655.54" y="1281.36" width="2.2" height="2.2"/><rect x="646.98" y="1281.36" width="2.2" height="2.2"/><rect x="638.42" y="1281.36" width="2.2" height="2.2"/><rect x="629.86" y="1281.36" width="2.2" height="2.2"/><rect x="621.30" y="1281.36" width="2.2" height="2.2"/><rect x="612.74" y="1281.36" width="2.2" height="2.2"/><rect x="604.18" y="1281.36" width="2.2" height="2.2"/><rect x="595.62" y="1281.36" width="2.2" height="2.2"/><rect x="587.06" y="1281.36" width="2.2" height="2.2"/><rect x="578.50" y="1281.36" width="2.2" height="2.2"/><rect x="569.94" y="1281.36" width="2.2" height="2.2"/><rect x="561.38" y="1281.36" width="2.2" height="2.2"/><rect x="552.82" y="1281.36" width="2.2" height="2.2"/><rect x="544.26" y="1281.36" width="2.2" height="2.2"/><rect x="535.70" y="1281.36" width="2.2" height="2.2"/><rect x="527.14" y="1281.36" width="2.2" height="2.2"/><rect x="518.58" y="1281.36" width="2.2" height="2.2"/><rect x="510.02" y="1281.36" width="2.2" height="2.2"/><rect x="501.46" y="1281.36" width="2.2" height="2.2"/><rect x="492.90" y="1281.36" width="2.2" height="2.2"/><rect x="484.34" y="1281.36" width="2.2" height="2.2"/><rect x="475.78" y="1281.36" width="2.2" height="2.2"/><rect x="467.22" y="1281.36" width="2.2" height="2.2"/><rect x="458.66" y="1281.36" width="2.2" height="2.2"/><rect x="450.10" y="1281.36" width="2.2" height="2.2"/><rect x="441.54" y="1281.36" width="2.2" height="2.2"/><rect x="432.98" y="1281.36" width="2.2" height="2.2"/><rect x="424.42" y="1281.36" width="2.2" height="2.2"/><rect x="415.86" y="1281.36" width="2.2" height="2.2"/><rect x="407.30" y="1281.36" width="2.2" height="2.2"/><rect x="398.74" y="1281.36" width="2.2" height="2.2"/><rect x="390.18" y="1281.36" width="2.2" height="2.2"/><rect x="381.62" y="1281.36" width="2.2" height="2.2"/><rect x="373.06" y="1281.36" width="2.2" height="2.2"/><rect x="364.50" y="1281.36" width="2.2" height="2.2"/><rect x="355.94" y="1281.36" width="2.2" height="2.2"/><rect x="347.38" y="1281.36" width="2.2" height="2.2"/><rect x="878.10" y="1324.83" width="2.2" height="2.2"/><rect x="869.54" y="1324.83" width="2.2" height="2.2"/><rect x="860.98" y="1324.83" width="2.2" height="2.2"/><rect x="852.42" y="1324.83" width="2.2" height="2.2"/><rect x="843.86" y="1324.83" width="2.2" height="2.2"/><rect x="835.30" y="1324.83" width="2.2" height="2.2"/><rect x="826.74" y="1324.83" width="2.2" height="2.2"/><rect x="818.18" y="1324.83" width="2.2" height="2.2"/><rect x="809.62" y="1324.83" width="2.2" height="2.2"/><rect x="801.06" y="1324.83" width="2.2" height="2.2"/><rect x="792.50" y="1324.83" width="2.2" height="2.2"/><rect x="783.94" y="1324.83" width="2.2" height="2.2"/><rect x="775.38" y="1324.83" width="2.2" height="2.2"/><rect x="766.82" y="1324.83" width="2.2" height="2.2"/><rect x="758.26" y="1324.83" width="2.2" height="2.2"/><rect x="749.70" y="1324.83" width="2.2" height="2.2"/><rect x="741.14" y="1324.83" width="2.2" height="2.2"/><rect x="732.58" y="1324.83" width="2.2" height="2.2"/><rect x="724.02" y="1324.83" width="2.2" height="2.2"/><rect x="715.46" y="1324.83" width="2.2" height="2.2"/><rect x="706.90" y="1324.83" width="2.2" height="2.2"/><rect x="698.34" y="1324.83" width="2.2" height="2.2"/><rect x="689.78" y="1324.83" width="2.2" height="2.2"/><rect x="681.22" y="1324.83" width="2.2" height="2.2"/><rect x="672.66" y="1324.83" width="2.2" height="2.2"/><rect x="664.10" y="1324.83" width="2.2" height="2.2"/><rect x="655.54" y="1324.83" width="2.2" height="2.2"/><rect x="646.98" y="1324.83" width="2.2" height="2.2"/><rect x="638.42" y="1324.83" width="2.2" height="2.2"/><rect x="629.86" y="1324.83" width="2.2" height="2.2"/><rect x="621.30" y="1324.83" width="2.2" height="2.2"/><rect x="612.74" y="1324.83" width="2.2" height="2.2"/><rect x="604.18" y="1324.83" width="2.2" height="2.2"/><rect x="595.62" y="1324.83" width="2.2" height="2.2"/><rect x="587.06" y="1324.83" width="2.2" height="2.2"/><rect x="578.50" y="1324.83" width="2.2" height="2.2"/><rect x="569.94" y="1324.83" width="2.2" height="2.2"/><rect x="561.38" y="1324.83" width="2.2" height="2.2"/><rect x="552.82" y="1324.83" width="2.2" height="2.2"/><rect x="544.26" y="1324.83" width="2.2" height="2.2"/><rect x="535.70" y="1324.83" width="2.2" height="2.2"/><rect x="527.14" y="1324.83" width="2.2" height="2.2"/><rect x="518.58" y="1324.83" width="2.2" height="2.2"/><rect x="510.02" y="1324.83" width="2.2" height="2.2"/><rect x="501.46" y="1324.83" width="2.2" height="2.2"/><rect x="492.90" y="1324.83" width="2.2" height="2.2"/><rect x="484.34" y="1324.83" width="2.2" height="2.2"/><rect x="475.78" y="1324.83" width="2.2" height="2.2"/><rect x="467.22" y="1324.83" width="2.2" height="2.2"/><rect x="458.66" y="1324.83" width="2.2" height="2.2"/><rect x="450.10" y="1324.83" width="2.2" height="2.2"/><rect x="441.54" y="1324.83" width="2.2" height="2.2"/><rect x="432.98" y="1324.83" width="2.2" height="2.2"/><rect x="424.42" y="1324.83" width="2.2" height="2.2"/></svg>
</div></body></html>
